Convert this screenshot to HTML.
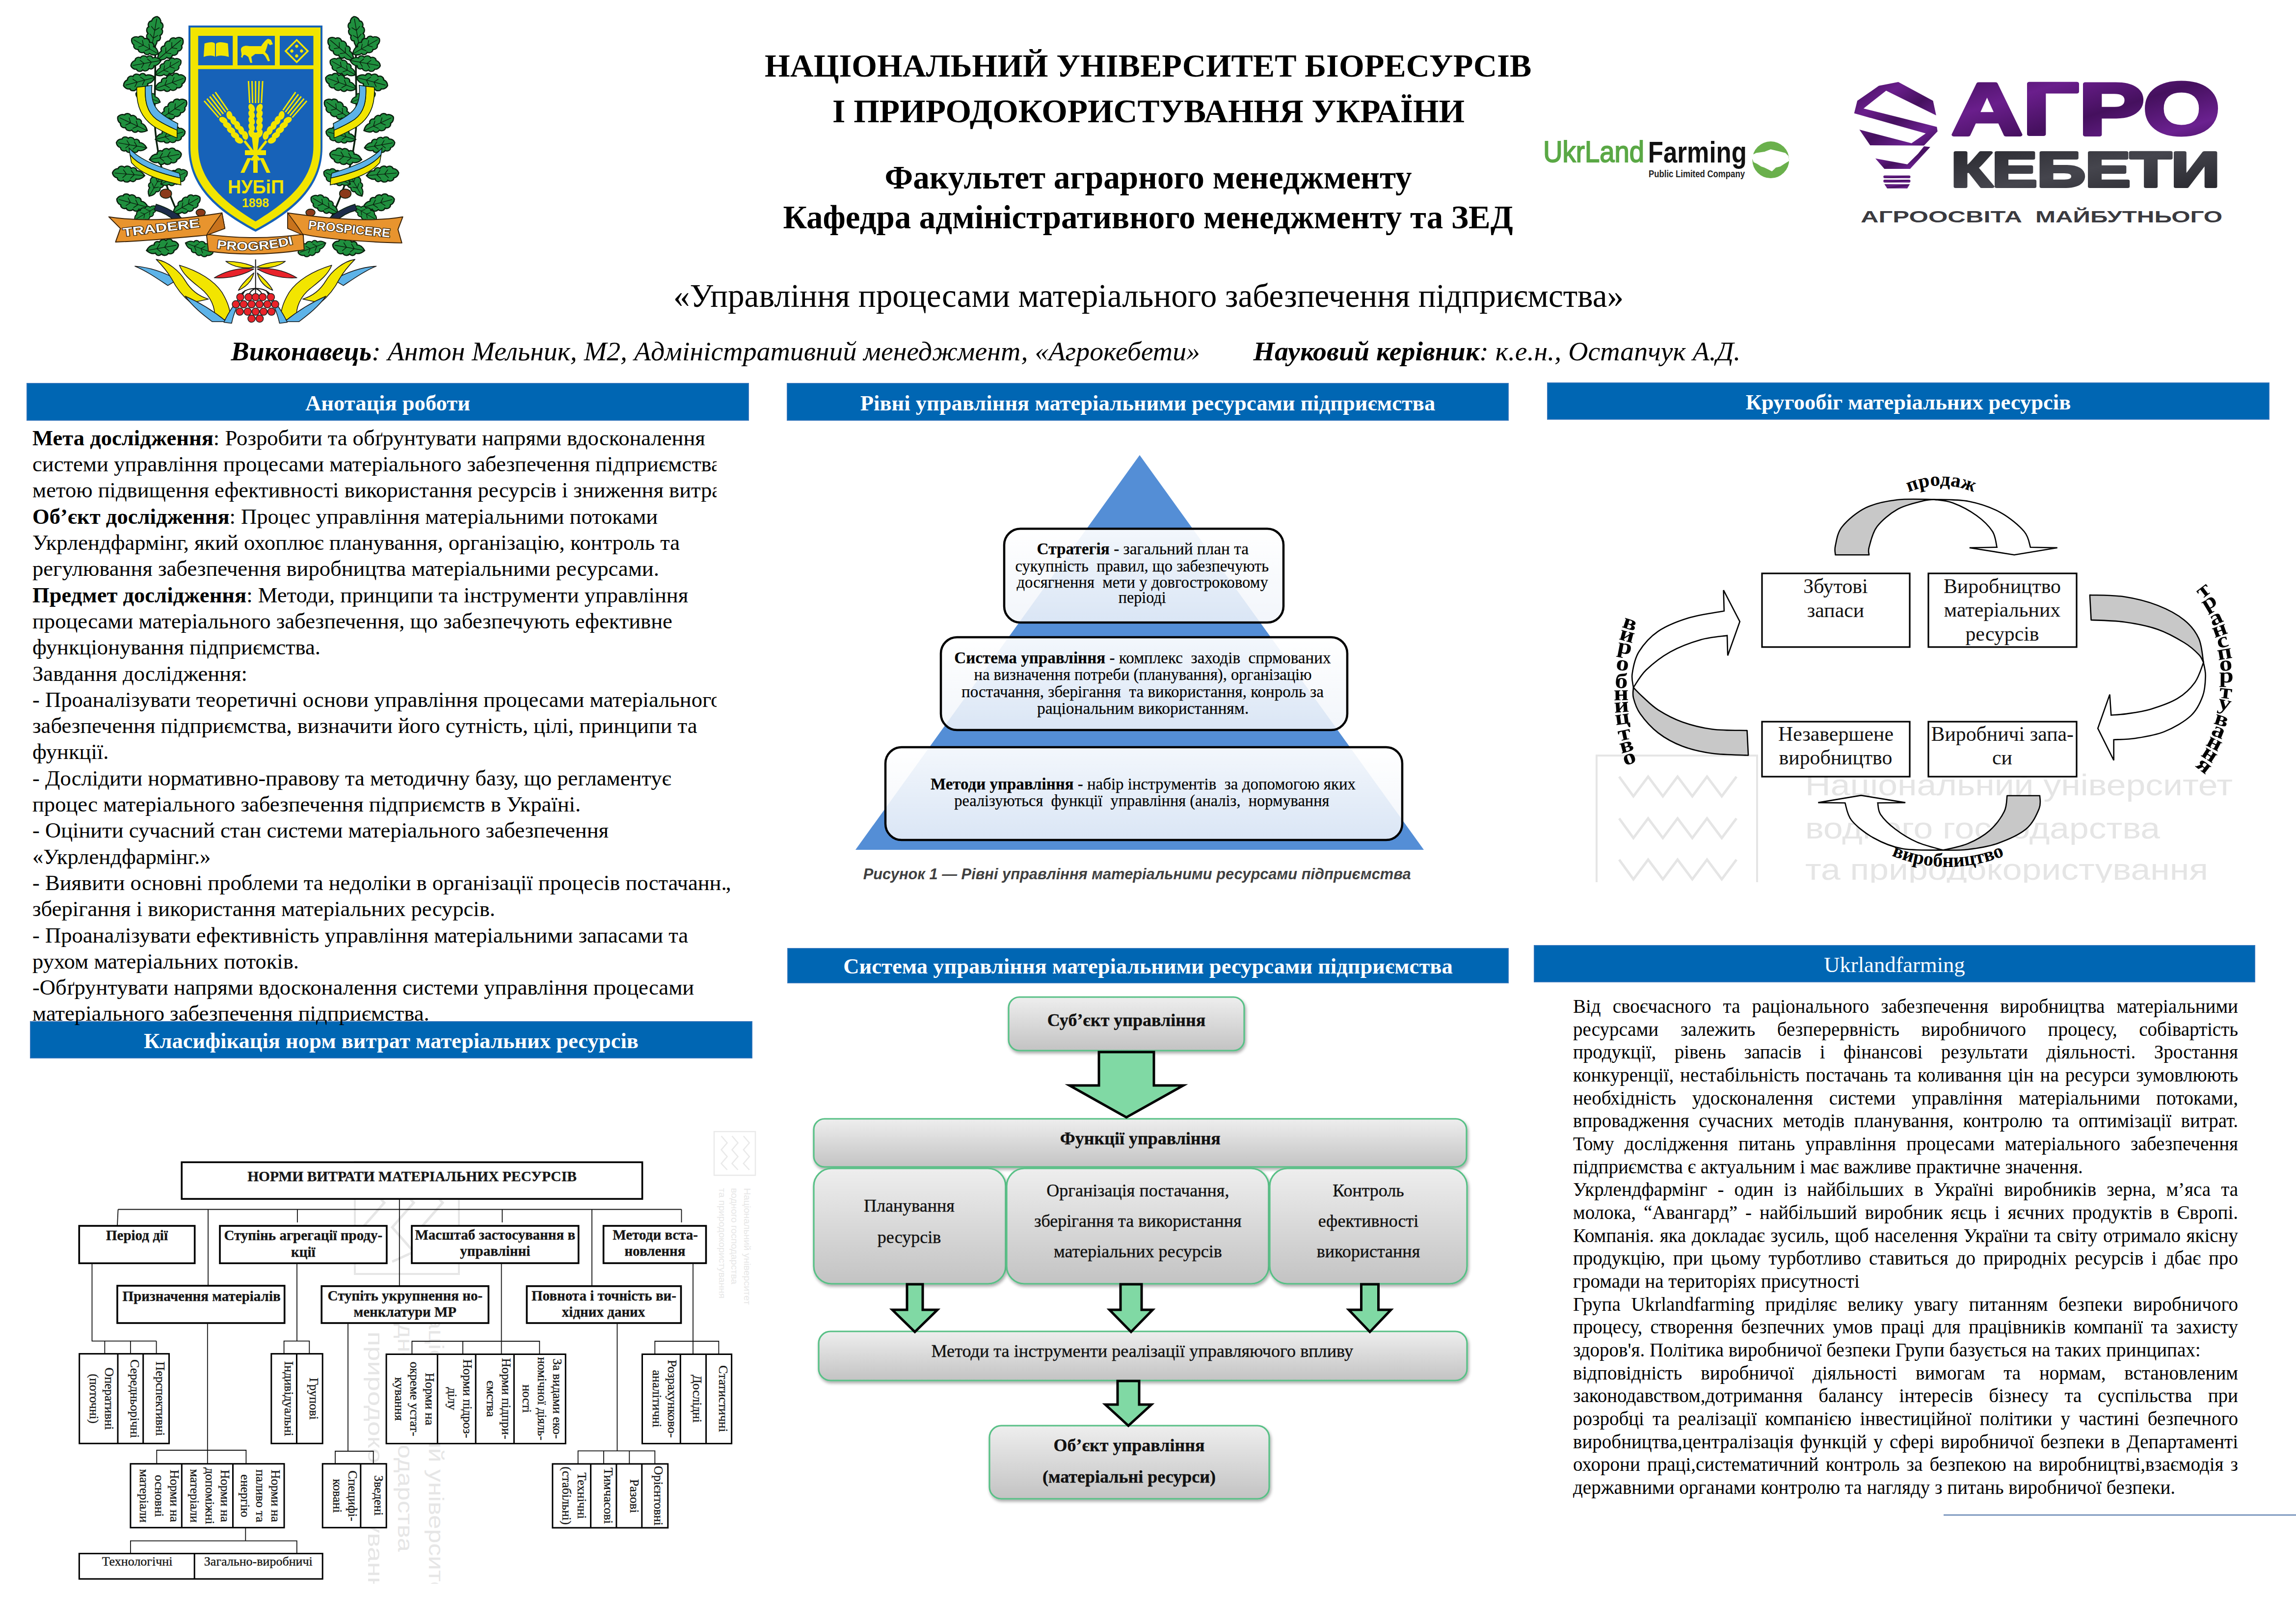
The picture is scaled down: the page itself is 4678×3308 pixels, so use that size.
<!DOCTYPE html>
<html><head><meta charset="utf-8"><style>
html,body{margin:0;padding:0;background:#fff;}
body{width:4678px;height:3308px;position:relative;overflow:hidden;font-family:'Liberation Serif', serif;color:#000;}
.a{position:absolute;white-space:nowrap;}
body>svg{position:absolute;overflow:visible;}
</style></head><body>
<div class="a" style="left:1558.0px;top:94.3px;font-size:66.5px;line-height:79.80px;font-family:'Liberation Serif', serif;font-weight:bold;">НАЦІОНАЛЬНИЙ УНІВЕРСИТЕТ БІОРЕСУРСІВ</div>
<div class="a" style="left:1696.0px;top:185.6px;font-size:67.6px;line-height:81.12px;font-family:'Liberation Serif', serif;font-weight:bold;">І ПРИРОДОКОРИСТУВАННЯ УКРАЇНИ</div>
<div class="a" style="left:1802.5px;top:321.6px;font-size:67.2px;line-height:80.64px;font-family:'Liberation Serif', serif;font-weight:bold;">Факультет аграрного менеджменту</div>
<div class="a" style="left:1595.5px;top:401.6px;font-size:66.9px;line-height:80.28px;font-family:'Liberation Serif', serif;font-weight:bold;">Кафедра адміністративного менеджменту та ЗЕД</div>
<div class="a" style="left:1372.0px;top:562.6px;font-size:67.1px;line-height:80.52px;font-family:'Liberation Serif', serif;">«Управління процесами матеріального забезпечення підприємства»</div>
<div class="a" style="left:470.5px;top:681.7px;font-size:55.8px;line-height:66.96px;font-family:'Liberation Serif', serif;font-style:italic;"><b>Виконавець</b>: Антон Мельник, М2, Адміністративний менеджмент, «Агрокебети»</div>
<div class="a" style="left:2553.5px;top:681.6px;font-size:55.85px;line-height:67.02px;font-family:'Liberation Serif', serif;font-style:italic;"><b>Науковий керівник</b>: к.е.н., Остапчук А.Д.</div>
<div class="a" style="left:54px;top:780px;width:1472px;height:77px;background:#0066b3;box-shadow:inset 0 0 0 1.5px #3c78bd;"></div>
<div class="a" style="left:54.0px;top:794.6px;font-size:44.6px;line-height:53.52px;font-family:'Liberation Serif', serif;font-weight:bold;color:#fff;width:1472.0px;text-align:center;">Анотація роботи</div>
<div class="a" style="left:1603px;top:780px;width:1471px;height:77px;background:#0066b3;box-shadow:inset 0 0 0 1.5px #3c78bd;"></div>
<div class="a" style="left:1603.0px;top:794.6px;font-size:44.6px;line-height:53.52px;font-family:'Liberation Serif', serif;font-weight:bold;color:#fff;width:1471.0px;text-align:center;">Рівні управління матеріальними ресурсами підприємства</div>
<div class="a" style="left:3152px;top:779px;width:1472px;height:76px;background:#0066b3;box-shadow:inset 0 0 0 1.5px #3c78bd;"></div>
<div class="a" style="left:3152.0px;top:792.9px;font-size:44.6px;line-height:53.52px;font-family:'Liberation Serif', serif;font-weight:bold;color:#fff;width:1472.0px;text-align:center;">Кругообіг матеріальних ресурсів</div>
<div class="a" style="left:61px;top:2080px;width:1472px;height:76px;background:#0066b3;box-shadow:inset 0 0 0 1.5px #3c78bd;"></div>
<div class="a" style="left:61.0px;top:2093.9px;font-size:44.6px;line-height:53.52px;font-family:'Liberation Serif', serif;font-weight:bold;color:#fff;width:1472.0px;text-align:center;">Класифікація норм витрат матеріальних ресурсів</div>
<div class="a" style="left:1604px;top:1931px;width:1470px;height:72px;background:#0066b3;box-shadow:inset 0 0 0 1.5px #3c78bd;"></div>
<div class="a" style="left:1604.0px;top:1942.0px;font-size:44.6px;line-height:53.52px;font-family:'Liberation Serif', serif;font-weight:bold;color:#fff;width:1470.0px;text-align:center;">Система управління матеріальними ресурсами підприємства</div>
<div class="a" style="left:3125px;top:1925px;width:1470px;height:76px;background:#0066b3;box-shadow:inset 0 0 0 1.5px #3c78bd;"></div>
<div class="a" style="left:3125.0px;top:1938.9px;font-size:44.6px;line-height:53.52px;font-family:'Liberation Serif', serif;color:#fff;width:1470.0px;text-align:center;">Ukrlandfarming</div>
<div class="a" style="left:66.0px;top:865.8px;font-size:44.6px;line-height:53.52px;font-family:'Liberation Serif', serif;white-space:nowrap;overflow:hidden;width:1394px;"><b>Мета дослідження</b>: Розробити та обґрунтувати напрями вдосконалення</div>
<div class="a" style="left:66.0px;top:919.1px;font-size:44.6px;line-height:53.52px;font-family:'Liberation Serif', serif;white-space:nowrap;overflow:hidden;width:1394px;">системи управління процесами матеріального забезпечення підприємства з</div>
<div class="a" style="left:66.0px;top:972.4px;font-size:44.6px;line-height:53.52px;font-family:'Liberation Serif', serif;white-space:nowrap;overflow:hidden;width:1394px;">метою підвищення ефективності використання ресурсів і зниження витрат.</div>
<div class="a" style="left:66.0px;top:1025.7px;font-size:44.6px;line-height:53.52px;font-family:'Liberation Serif', serif;white-space:nowrap;overflow:hidden;width:1394px;"><b>Об’єкт дослідження</b>: Процес управління матеріальними потоками</div>
<div class="a" style="left:66.0px;top:1079.0px;font-size:44.6px;line-height:53.52px;font-family:'Liberation Serif', serif;white-space:nowrap;overflow:hidden;width:1394px;">Укрлендфармінг, який охоплює планування, організацію, контроль та</div>
<div class="a" style="left:66.0px;top:1132.3px;font-size:44.6px;line-height:53.52px;font-family:'Liberation Serif', serif;white-space:nowrap;overflow:hidden;width:1394px;">регулювання забезпечення виробництва матеріальними ресурсами.</div>
<div class="a" style="left:66.0px;top:1185.6px;font-size:44.6px;line-height:53.52px;font-family:'Liberation Serif', serif;white-space:nowrap;overflow:hidden;width:1394px;"><b>Предмет дослідження</b>: Методи, принципи та інструменти управління</div>
<div class="a" style="left:66.0px;top:1238.9px;font-size:44.6px;line-height:53.52px;font-family:'Liberation Serif', serif;white-space:nowrap;overflow:hidden;width:1394px;">процесами матеріального забезпечення, що забезпечують ефективне</div>
<div class="a" style="left:66.0px;top:1292.2px;font-size:44.6px;line-height:53.52px;font-family:'Liberation Serif', serif;white-space:nowrap;overflow:hidden;width:1394px;">функціонування підприємства.</div>
<div class="a" style="left:66.0px;top:1345.5px;font-size:44.6px;line-height:53.52px;font-family:'Liberation Serif', serif;white-space:nowrap;overflow:hidden;width:1394px;">Завдання дослідження:</div>
<div class="a" style="left:66.0px;top:1398.8px;font-size:44.6px;line-height:53.52px;font-family:'Liberation Serif', serif;white-space:nowrap;overflow:hidden;width:1394px;">- Проаналізувати теоретичні основи управління процесами матеріального</div>
<div class="a" style="left:66.0px;top:1452.1px;font-size:44.6px;line-height:53.52px;font-family:'Liberation Serif', serif;white-space:nowrap;overflow:hidden;width:1394px;">забезпечення підприємства, визначити його сутність, цілі, принципи та</div>
<div class="a" style="left:66.0px;top:1505.4px;font-size:44.6px;line-height:53.52px;font-family:'Liberation Serif', serif;white-space:nowrap;overflow:hidden;width:1394px;">функції.</div>
<div class="a" style="left:66.0px;top:1558.7px;font-size:44.6px;line-height:53.52px;font-family:'Liberation Serif', serif;white-space:nowrap;overflow:hidden;width:1394px;">- Дослідити нормативно-правову та методичну базу, що регламентує</div>
<div class="a" style="left:66.0px;top:1612.0px;font-size:44.6px;line-height:53.52px;font-family:'Liberation Serif', serif;white-space:nowrap;overflow:hidden;width:1394px;">процес матеріального забезпечення підприємств в Україні.</div>
<div class="a" style="left:66.0px;top:1665.3px;font-size:44.6px;line-height:53.52px;font-family:'Liberation Serif', serif;white-space:nowrap;overflow:hidden;width:1394px;">- Оцінити сучасний стан системи матеріального забезпечення</div>
<div class="a" style="left:66.0px;top:1718.6px;font-size:44.6px;line-height:53.52px;font-family:'Liberation Serif', serif;white-space:nowrap;overflow:hidden;width:1394px;">«Укрлендфармінг.»</div>
<div class="a" style="left:66.0px;top:1771.9px;font-size:44.6px;line-height:53.52px;font-family:'Liberation Serif', serif;white-space:nowrap;">- Виявити основні проблеми та недоліки в організації процесів постачанн<span style="letter-spacing:-2px">.,</span></div>
<div class="a" style="left:66.0px;top:1825.2px;font-size:44.6px;line-height:53.52px;font-family:'Liberation Serif', serif;white-space:nowrap;overflow:hidden;width:1394px;">зберігання і використання матеріальних ресурсів.</div>
<div class="a" style="left:66.0px;top:1878.5px;font-size:44.6px;line-height:53.52px;font-family:'Liberation Serif', serif;white-space:nowrap;overflow:hidden;width:1394px;">- Проаналізувати ефективність управління матеріальними запасами та</div>
<div class="a" style="left:66.0px;top:1931.8px;font-size:44.6px;line-height:53.52px;font-family:'Liberation Serif', serif;white-space:nowrap;overflow:hidden;width:1394px;">рухом матеріальних потоків.</div>
<div class="a" style="left:66.0px;top:1985.1px;font-size:44.6px;line-height:53.52px;font-family:'Liberation Serif', serif;white-space:nowrap;overflow:hidden;width:1394px;">-Обґрунтувати напрями вдосконалення системи управління процесами</div>
<div class="a" style="left:66.0px;top:2038.4px;font-size:44.6px;line-height:53.52px;font-family:'Liberation Serif', serif;white-space:nowrap;overflow:hidden;width:1394px;">матеріального забезпечення підприємства.</div>
<div class="a" style="left:3205.0px;top:2027.1px;font-size:39px;line-height:46.80px;font-family:'Liberation Serif', serif;width:1355.0px;text-align:justify;text-align-last:justify;">Від своєчасного та раціонального забезпечення виробництва матеріальними</div>
<div class="a" style="left:3205.0px;top:2073.8px;font-size:39px;line-height:46.80px;font-family:'Liberation Serif', serif;width:1355.0px;text-align:justify;text-align-last:justify;">ресурсами залежить безперервність виробничого процесу, собівартість</div>
<div class="a" style="left:3205.0px;top:2120.4px;font-size:39px;line-height:46.80px;font-family:'Liberation Serif', serif;width:1355.0px;text-align:justify;text-align-last:justify;">продукції, рівень запасів і фінансові результати діяльності. Зростання</div>
<div class="a" style="left:3205.0px;top:2167.1px;font-size:39px;line-height:46.80px;font-family:'Liberation Serif', serif;width:1355.0px;text-align:justify;text-align-last:justify;">конкуренції, нестабільність постачань та коливання цін на ресурси зумовлюють</div>
<div class="a" style="left:3205.0px;top:2213.7px;font-size:39px;line-height:46.80px;font-family:'Liberation Serif', serif;width:1355.0px;text-align:justify;text-align-last:justify;">необхідність удосконалення системи управління матеріальними потоками,</div>
<div class="a" style="left:3205.0px;top:2260.4px;font-size:39px;line-height:46.80px;font-family:'Liberation Serif', serif;width:1355.0px;text-align:justify;text-align-last:justify;">впровадження сучасних методів планування, контролю та оптимізації витрат.</div>
<div class="a" style="left:3205.0px;top:2307.0px;font-size:39px;line-height:46.80px;font-family:'Liberation Serif', serif;width:1355.0px;text-align:justify;text-align-last:justify;">Тому дослідження питань управління процесами матеріального забезпечення</div>
<div class="a" style="left:3205.0px;top:2353.7px;font-size:39px;line-height:46.80px;font-family:'Liberation Serif', serif;white-space:nowrap;">підприємства є актуальним і має важливе практичне значення.</div>
<div class="a" style="left:3205.0px;top:2400.3px;font-size:39px;line-height:46.80px;font-family:'Liberation Serif', serif;width:1355.0px;text-align:justify;text-align-last:justify;">Укрлендфармінг - один із найбільших в Україні виробників зерна, м’яса та</div>
<div class="a" style="left:3205.0px;top:2447.0px;font-size:39px;line-height:46.80px;font-family:'Liberation Serif', serif;width:1355.0px;text-align:justify;text-align-last:justify;">молока, “Авангард” - найбільший виробник яєць і яєчних продуктів в Європі.</div>
<div class="a" style="left:3205.0px;top:2493.6px;font-size:39px;line-height:46.80px;font-family:'Liberation Serif', serif;width:1355.0px;text-align:justify;text-align-last:justify;">Компанія. яка докладає зусиль, щоб населення України та світу отримало якісну</div>
<div class="a" style="left:3205.0px;top:2540.3px;font-size:39px;line-height:46.80px;font-family:'Liberation Serif', serif;width:1355.0px;text-align:justify;text-align-last:justify;">продукцію, при цьому турботливо ставиться до природніх ресурсів і дбає про</div>
<div class="a" style="left:3205.0px;top:2586.9px;font-size:39px;line-height:46.80px;font-family:'Liberation Serif', serif;white-space:nowrap;">громади на територіях присутності</div>
<div class="a" style="left:3205.0px;top:2633.6px;font-size:39px;line-height:46.80px;font-family:'Liberation Serif', serif;width:1355.0px;text-align:justify;text-align-last:justify;">Група Ukrlandfarming приділяє велику увагу питанням безпеки виробничого</div>
<div class="a" style="left:3205.0px;top:2680.2px;font-size:39px;line-height:46.80px;font-family:'Liberation Serif', serif;width:1355.0px;text-align:justify;text-align-last:justify;">процесу, створення безпечних умов праці для працівників компанії та захисту</div>
<div class="a" style="left:3205.0px;top:2726.9px;font-size:39px;line-height:46.80px;font-family:'Liberation Serif', serif;white-space:nowrap;">здоров'я. Політика виробничої безпеки Групи базується на таких принципах:</div>
<div class="a" style="left:3205.0px;top:2773.5px;font-size:39px;line-height:46.80px;font-family:'Liberation Serif', serif;width:1355.0px;text-align:justify;text-align-last:justify;">відповідність виробничої діяльності вимогам та нормам, встановленим</div>
<div class="a" style="left:3205.0px;top:2820.2px;font-size:39px;line-height:46.80px;font-family:'Liberation Serif', serif;width:1355.0px;text-align:justify;text-align-last:justify;">законодавством,дотримання балансу інтересів бізнесу та суспільства при</div>
<div class="a" style="left:3205.0px;top:2866.8px;font-size:39px;line-height:46.80px;font-family:'Liberation Serif', serif;width:1355.0px;text-align:justify;text-align-last:justify;">розробці та реалізації компанією інвестиційної політики у частині безпечного</div>
<div class="a" style="left:3205.0px;top:2913.5px;font-size:39px;line-height:46.80px;font-family:'Liberation Serif', serif;width:1355.0px;text-align:justify;text-align-last:justify;">виробництва,централізація функцій у сфері виробничої безпеки в Департаменті</div>
<div class="a" style="left:3205.0px;top:2960.1px;font-size:39px;line-height:46.80px;font-family:'Liberation Serif', serif;width:1355.0px;text-align:justify;text-align-last:justify;">охорони праці,систематичний контроль за безпекою на виробництві,взаємодія з</div>
<div class="a" style="left:3205.0px;top:3006.8px;font-size:39px;line-height:46.80px;font-family:'Liberation Serif', serif;white-space:nowrap;">державними органами контролю та нагляду з питань виробничої безпеки.</div>
<div class="a" style="left:3960px;top:3084.5px;width:718px;height:2.5px;background:#4a6fa6;"></div>
<svg style="left:0;top:0" width="4678" height="3308" viewBox="0 0 4678 3308">
<g transform="translate(200,20) scale(0.39409)"><g transform=""><path d="M430,1090 C360,950 310,800 295,620 C285,450 305,300 290,80" fill="none" stroke="#0a1f0e" stroke-width="9"/><g transform="translate(290,120) rotate(-80) scale(1.35,1.2)"><path d="M-60,0 C-50,-14 -38,-20 -28,-18 C-26,-30 -14,-34 -6,-26 C0,-36 14,-38 20,-28 C28,-36 42,-32 44,-20 C54,-20 62,-10 64,0 C62,10 54,20 44,20 C42,32 28,36 20,28 C14,38 0,36 -6,26 C-14,34 -26,30 -28,18 C-38,20 -50,14 -60,0 Z" fill="#1f8f3e" stroke="#0a1f0e" stroke-width="5"/><path d="M-58,0 L56,0 M-20,0 L-6,-18 M10,0 L24,-18 M-20,0 L-6,18 M10,0 L24,18" stroke="#0a1f0e" stroke-width="3" fill="none"/></g><g transform="translate(245,190) rotate(-150) scale(1.2825,1.14)"><path d="M-60,0 C-50,-14 -38,-20 -28,-18 C-26,-30 -14,-34 -6,-26 C0,-36 14,-38 20,-28 C28,-36 42,-32 44,-20 C54,-20 62,-10 64,0 C62,10 54,20 44,20 C42,32 28,36 20,28 C14,38 0,36 -6,26 C-14,34 -26,30 -28,18 C-38,20 -50,14 -60,0 Z" fill="#1f8f3e" stroke="#0a1f0e" stroke-width="5"/><path d="M-58,0 L56,0 M-20,0 L-6,-18 M10,0 L24,-18 M-20,0 L-6,18 M10,0 L24,18" stroke="#0a1f0e" stroke-width="3" fill="none"/></g><g transform="translate(370,205) rotate(-40) scale(1.35,1.2)"><path d="M-60,0 C-50,-14 -38,-20 -28,-18 C-26,-30 -14,-34 -6,-26 C0,-36 14,-38 20,-28 C28,-36 42,-32 44,-20 C54,-20 62,-10 64,0 C62,10 54,20 44,20 C42,32 28,36 20,28 C14,38 0,36 -6,26 C-14,34 -26,30 -28,18 C-38,20 -50,14 -60,0 Z" fill="#1f8f3e" stroke="#0a1f0e" stroke-width="5"/><path d="M-58,0 L56,0 M-20,0 L-6,-18 M10,0 L24,-18 M-20,0 L-6,18 M10,0 L24,18" stroke="#0a1f0e" stroke-width="3" fill="none"/></g><g transform="translate(250,275) rotate(170) scale(1.2825,1.14)"><path d="M-60,0 C-50,-14 -38,-20 -28,-18 C-26,-30 -14,-34 -6,-26 C0,-36 14,-38 20,-28 C28,-36 42,-32 44,-20 C54,-20 62,-10 64,0 C62,10 54,20 44,20 C42,32 28,36 20,28 C14,38 0,36 -6,26 C-14,34 -26,30 -28,18 C-38,20 -50,14 -60,0 Z" fill="#1f8f3e" stroke="#0a1f0e" stroke-width="5"/><path d="M-58,0 L56,0 M-20,0 L-6,-18 M10,0 L24,-18 M-20,0 L-6,18 M10,0 L24,18" stroke="#0a1f0e" stroke-width="3" fill="none"/></g><g transform="translate(360,300) rotate(-30) scale(1.215,1.08)"><path d="M-60,0 C-50,-14 -38,-20 -28,-18 C-26,-30 -14,-34 -6,-26 C0,-36 14,-38 20,-28 C28,-36 42,-32 44,-20 C54,-20 62,-10 64,0 C62,10 54,20 44,20 C42,32 28,36 20,28 C14,38 0,36 -6,26 C-14,34 -26,30 -28,18 C-38,20 -50,14 -60,0 Z" fill="#1f8f3e" stroke="#0a1f0e" stroke-width="5"/><path d="M-58,0 L56,0 M-20,0 L-6,-18 M10,0 L24,-18 M-20,0 L-6,18 M10,0 L24,18" stroke="#0a1f0e" stroke-width="3" fill="none"/></g><g transform="translate(215,370) rotate(165) scale(1.35,1.2)"><path d="M-60,0 C-50,-14 -38,-20 -28,-18 C-26,-30 -14,-34 -6,-26 C0,-36 14,-38 20,-28 C28,-36 42,-32 44,-20 C54,-20 62,-10 64,0 C62,10 54,20 44,20 C42,32 28,36 20,28 C14,38 0,36 -6,26 C-14,34 -26,30 -28,18 C-38,20 -50,14 -60,0 Z" fill="#1f8f3e" stroke="#0a1f0e" stroke-width="5"/><path d="M-58,0 L56,0 M-20,0 L-6,-18 M10,0 L24,-18 M-20,0 L-6,18 M10,0 L24,18" stroke="#0a1f0e" stroke-width="3" fill="none"/></g><g transform="translate(370,380) rotate(-20) scale(1.35,1.2)"><path d="M-60,0 C-50,-14 -38,-20 -28,-18 C-26,-30 -14,-34 -6,-26 C0,-36 14,-38 20,-28 C28,-36 42,-32 44,-20 C54,-20 62,-10 64,0 C62,10 54,20 44,20 C42,32 28,36 20,28 C14,38 0,36 -6,26 C-14,34 -26,30 -28,18 C-38,20 -50,14 -60,0 Z" fill="#1f8f3e" stroke="#0a1f0e" stroke-width="5"/><path d="M-58,0 L56,0 M-20,0 L-6,-18 M10,0 L24,-18 M-20,0 L-6,18 M10,0 L24,18" stroke="#0a1f0e" stroke-width="3" fill="none"/></g><g transform="translate(260,455) rotate(200) scale(1.08,0.96)"><path d="M-60,0 C-50,-14 -38,-20 -28,-18 C-26,-30 -14,-34 -6,-26 C0,-36 14,-38 20,-28 C28,-36 42,-32 44,-20 C54,-20 62,-10 64,0 C62,10 54,20 44,20 C42,32 28,36 20,28 C14,38 0,36 -6,26 C-14,34 -26,30 -28,18 C-38,20 -50,14 -60,0 Z" fill="#1f8f3e" stroke="#0a1f0e" stroke-width="5"/><path d="M-58,0 L56,0 M-20,0 L-6,-18 M10,0 L24,-18 M-20,0 L-6,18 M10,0 L24,18" stroke="#0a1f0e" stroke-width="3" fill="none"/></g><g transform="translate(385,520) rotate(-35) scale(1.35,1.2)"><path d="M-60,0 C-50,-14 -38,-20 -28,-18 C-26,-30 -14,-34 -6,-26 C0,-36 14,-38 20,-28 C28,-36 42,-32 44,-20 C54,-20 62,-10 64,0 C62,10 54,20 44,20 C42,32 28,36 20,28 C14,38 0,36 -6,26 C-14,34 -26,30 -28,18 C-38,20 -50,14 -60,0 Z" fill="#1f8f3e" stroke="#0a1f0e" stroke-width="5"/><path d="M-58,0 L56,0 M-20,0 L-6,-18 M10,0 L24,-18 M-20,0 L-6,18 M10,0 L24,18" stroke="#0a1f0e" stroke-width="3" fill="none"/></g><g transform="translate(180,590) rotate(205) scale(1.35,1.2)"><path d="M-60,0 C-50,-14 -38,-20 -28,-18 C-26,-30 -14,-34 -6,-26 C0,-36 14,-38 20,-28 C28,-36 42,-32 44,-20 C54,-20 62,-10 64,0 C62,10 54,20 44,20 C42,32 28,36 20,28 C14,38 0,36 -6,26 C-14,34 -26,30 -28,18 C-38,20 -50,14 -60,0 Z" fill="#1f8f3e" stroke="#0a1f0e" stroke-width="5"/><path d="M-58,0 L56,0 M-20,0 L-6,-18 M10,0 L24,-18 M-20,0 L-6,18 M10,0 L24,18" stroke="#0a1f0e" stroke-width="3" fill="none"/></g><g transform="translate(370,650) rotate(-15) scale(1.2825,1.14)"><path d="M-60,0 C-50,-14 -38,-20 -28,-18 C-26,-30 -14,-34 -6,-26 C0,-36 14,-38 20,-28 C28,-36 42,-32 44,-20 C54,-20 62,-10 64,0 C62,10 54,20 44,20 C42,32 28,36 20,28 C14,38 0,36 -6,26 C-14,34 -26,30 -28,18 C-38,20 -50,14 -60,0 Z" fill="#1f8f3e" stroke="#0a1f0e" stroke-width="5"/><path d="M-58,0 L56,0 M-20,0 L-6,-18 M10,0 L24,-18 M-20,0 L-6,18 M10,0 L24,18" stroke="#0a1f0e" stroke-width="3" fill="none"/></g><g transform="translate(175,700) rotate(190) scale(1.2825,1.14)"><path d="M-60,0 C-50,-14 -38,-20 -28,-18 C-26,-30 -14,-34 -6,-26 C0,-36 14,-38 20,-28 C28,-36 42,-32 44,-20 C54,-20 62,-10 64,0 C62,10 54,20 44,20 C42,32 28,36 20,28 C14,38 0,36 -6,26 C-14,34 -26,30 -28,18 C-38,20 -50,14 -60,0 Z" fill="#1f8f3e" stroke="#0a1f0e" stroke-width="5"/><path d="M-58,0 L56,0 M-20,0 L-6,-18 M10,0 L24,-18 M-20,0 L-6,18 M10,0 L24,18" stroke="#0a1f0e" stroke-width="3" fill="none"/></g><g transform="translate(345,760) rotate(-10) scale(1.35,1.2)"><path d="M-60,0 C-50,-14 -38,-20 -28,-18 C-26,-30 -14,-34 -6,-26 C0,-36 14,-38 20,-28 C28,-36 42,-32 44,-20 C54,-20 62,-10 64,0 C62,10 54,20 44,20 C42,32 28,36 20,28 C14,38 0,36 -6,26 C-14,34 -26,30 -28,18 C-38,20 -50,14 -60,0 Z" fill="#1f8f3e" stroke="#0a1f0e" stroke-width="5"/><path d="M-58,0 L56,0 M-20,0 L-6,-18 M10,0 L24,-18 M-20,0 L-6,18 M10,0 L24,18" stroke="#0a1f0e" stroke-width="3" fill="none"/></g><g transform="translate(160,850) rotate(185) scale(1.35,1.2)"><path d="M-60,0 C-50,-14 -38,-20 -28,-18 C-26,-30 -14,-34 -6,-26 C0,-36 14,-38 20,-28 C28,-36 42,-32 44,-20 C54,-20 62,-10 64,0 C62,10 54,20 44,20 C42,32 28,36 20,28 C14,38 0,36 -6,26 C-14,34 -26,30 -28,18 C-38,20 -50,14 -60,0 Z" fill="#1f8f3e" stroke="#0a1f0e" stroke-width="5"/><path d="M-58,0 L56,0 M-20,0 L-6,-18 M10,0 L24,-18 M-20,0 L-6,18 M10,0 L24,18" stroke="#0a1f0e" stroke-width="3" fill="none"/></g><g transform="translate(300,900) rotate(-60) scale(1.215,1.08)"><path d="M-60,0 C-50,-14 -38,-20 -28,-18 C-26,-30 -14,-34 -6,-26 C0,-36 14,-38 20,-28 C28,-36 42,-32 44,-20 C54,-20 62,-10 64,0 C62,10 54,20 44,20 C42,32 28,36 20,28 C14,38 0,36 -6,26 C-14,34 -26,30 -28,18 C-38,20 -50,14 -60,0 Z" fill="#1f8f3e" stroke="#0a1f0e" stroke-width="5"/><path d="M-58,0 L56,0 M-20,0 L-6,-18 M10,0 L24,-18 M-20,0 L-6,18 M10,0 L24,18" stroke="#0a1f0e" stroke-width="3" fill="none"/></g><g transform="translate(390,870) rotate(-25) scale(1.215,1.08)"><path d="M-60,0 C-50,-14 -38,-20 -28,-18 C-26,-30 -14,-34 -6,-26 C0,-36 14,-38 20,-28 C28,-36 42,-32 44,-20 C54,-20 62,-10 64,0 C62,10 54,20 44,20 C42,32 28,36 20,28 C14,38 0,36 -6,26 C-14,34 -26,30 -28,18 C-38,20 -50,14 -60,0 Z" fill="#1f8f3e" stroke="#0a1f0e" stroke-width="5"/><path d="M-58,0 L56,0 M-20,0 L-6,-18 M10,0 L24,-18 M-20,0 L-6,18 M10,0 L24,18" stroke="#0a1f0e" stroke-width="3" fill="none"/></g><g transform="translate(180,1000) rotate(195) scale(1.35,1.2)"><path d="M-60,0 C-50,-14 -38,-20 -28,-18 C-26,-30 -14,-34 -6,-26 C0,-36 14,-38 20,-28 C28,-36 42,-32 44,-20 C54,-20 62,-10 64,0 C62,10 54,20 44,20 C42,32 28,36 20,28 C14,38 0,36 -6,26 C-14,34 -26,30 -28,18 C-38,20 -50,14 -60,0 Z" fill="#1f8f3e" stroke="#0a1f0e" stroke-width="5"/><path d="M-58,0 L56,0 M-20,0 L-6,-18 M10,0 L24,-18 M-20,0 L-6,18 M10,0 L24,18" stroke="#0a1f0e" stroke-width="3" fill="none"/></g><g transform="translate(455,1010) rotate(-30) scale(1.2825,1.14)"><path d="M-60,0 C-50,-14 -38,-20 -28,-18 C-26,-30 -14,-34 -6,-26 C0,-36 14,-38 20,-28 C28,-36 42,-32 44,-20 C54,-20 62,-10 64,0 C62,10 54,20 44,20 C42,32 28,36 20,28 C14,38 0,36 -6,26 C-14,34 -26,30 -28,18 C-38,20 -50,14 -60,0 Z" fill="#1f8f3e" stroke="#0a1f0e" stroke-width="5"/><path d="M-58,0 L56,0 M-20,0 L-6,-18 M10,0 L24,-18 M-20,0 L-6,18 M10,0 L24,18" stroke="#0a1f0e" stroke-width="3" fill="none"/></g><g transform="translate(250,1050) rotate(150) scale(1.08,0.96)"><path d="M-60,0 C-50,-14 -38,-20 -28,-18 C-26,-30 -14,-34 -6,-26 C0,-36 14,-38 20,-28 C28,-36 42,-32 44,-20 C54,-20 62,-10 64,0 C62,10 54,20 44,20 C42,32 28,36 20,28 C14,38 0,36 -6,26 C-14,34 -26,30 -28,18 C-38,20 -50,14 -60,0 Z" fill="#1f8f3e" stroke="#0a1f0e" stroke-width="5"/><path d="M-58,0 L56,0 M-20,0 L-6,-18 M10,0 L24,-18 M-20,0 L-6,18 M10,0 L24,18" stroke="#0a1f0e" stroke-width="3" fill="none"/></g><g transform="translate(330,1230) rotate(-10) scale(1.35,1.2)"><path d="M-60,0 C-50,-14 -38,-20 -28,-18 C-26,-30 -14,-34 -6,-26 C0,-36 14,-38 20,-28 C28,-36 42,-32 44,-20 C54,-20 62,-10 64,0 C62,10 54,20 44,20 C42,32 28,36 20,28 C14,38 0,36 -6,26 C-14,34 -26,30 -28,18 C-38,20 -50,14 -60,0 Z" fill="#1f8f3e" stroke="#0a1f0e" stroke-width="5"/><path d="M-58,0 L56,0 M-20,0 L-6,-18 M10,0 L24,-18 M-20,0 L-6,18 M10,0 L24,18" stroke="#0a1f0e" stroke-width="3" fill="none"/></g><g transform="translate(520,1230) rotate(20) scale(1.215,1.08)"><path d="M-60,0 C-50,-14 -38,-20 -28,-18 C-26,-30 -14,-34 -6,-26 C0,-36 14,-38 20,-28 C28,-36 42,-32 44,-20 C54,-20 62,-10 64,0 C62,10 54,20 44,20 C42,32 28,36 20,28 C14,38 0,36 -6,26 C-14,34 -26,30 -28,18 C-38,20 -50,14 -60,0 Z" fill="#1f8f3e" stroke="#0a1f0e" stroke-width="5"/><path d="M-58,0 L56,0 M-20,0 L-6,-18 M10,0 L24,-18 M-20,0 L-6,18 M10,0 L24,18" stroke="#0a1f0e" stroke-width="3" fill="none"/></g><path d="M200,400 C195,480 215,560 300,610 C340,632 380,652 408,662 L408,622 C372,606 332,586 302,566 C252,530 240,470 244,395 Z" fill="#f2e500" stroke="#0a1f0e" stroke-width="4"/><path d="M244,395 C240,470 252,530 302,566 C332,586 372,606 408,622 L412,588 C380,572 346,552 322,532 C282,500 272,452 278,390 Z" fill="#5db3e8" stroke="#0a1f0e" stroke-width="4"/><path d="M160,715 C200,760 270,800 420,845 L425,870 C280,835 205,800 165,750 Z" fill="#5db3e8" stroke="#0a1f0e" stroke-width="4"/><path d="M165,750 C205,800 280,835 425,870 L428,905 C290,875 215,840 172,790 Z" fill="#f2e500" stroke="#0a1f0e" stroke-width="4"/><path d="M300,1005 C350,1020 410,1050 440,1085 L400,1095 C370,1065 330,1045 290,1035 Z" fill="#1d2c4a" stroke="#0a1f0e" stroke-width="4"/><ellipse cx="350" cy="950" rx="30" ry="24" fill="#8b3a1a" stroke="#0a1f0e" stroke-width="4"/><ellipse cx="530" cy="1048" rx="24" ry="18" fill="#8b3a1a" stroke="#0a1f0e" stroke-width="4"/></g><g transform="translate(1627.6,0) scale(-1,1)"><path d="M430,1090 C360,950 310,800 295,620 C285,450 305,300 290,80" fill="none" stroke="#0a1f0e" stroke-width="9"/><g transform="translate(290,120) rotate(-80) scale(1.35,1.2)"><path d="M-60,0 C-50,-14 -38,-20 -28,-18 C-26,-30 -14,-34 -6,-26 C0,-36 14,-38 20,-28 C28,-36 42,-32 44,-20 C54,-20 62,-10 64,0 C62,10 54,20 44,20 C42,32 28,36 20,28 C14,38 0,36 -6,26 C-14,34 -26,30 -28,18 C-38,20 -50,14 -60,0 Z" fill="#1f8f3e" stroke="#0a1f0e" stroke-width="5"/><path d="M-58,0 L56,0 M-20,0 L-6,-18 M10,0 L24,-18 M-20,0 L-6,18 M10,0 L24,18" stroke="#0a1f0e" stroke-width="3" fill="none"/></g><g transform="translate(245,190) rotate(-150) scale(1.2825,1.14)"><path d="M-60,0 C-50,-14 -38,-20 -28,-18 C-26,-30 -14,-34 -6,-26 C0,-36 14,-38 20,-28 C28,-36 42,-32 44,-20 C54,-20 62,-10 64,0 C62,10 54,20 44,20 C42,32 28,36 20,28 C14,38 0,36 -6,26 C-14,34 -26,30 -28,18 C-38,20 -50,14 -60,0 Z" fill="#1f8f3e" stroke="#0a1f0e" stroke-width="5"/><path d="M-58,0 L56,0 M-20,0 L-6,-18 M10,0 L24,-18 M-20,0 L-6,18 M10,0 L24,18" stroke="#0a1f0e" stroke-width="3" fill="none"/></g><g transform="translate(370,205) rotate(-40) scale(1.35,1.2)"><path d="M-60,0 C-50,-14 -38,-20 -28,-18 C-26,-30 -14,-34 -6,-26 C0,-36 14,-38 20,-28 C28,-36 42,-32 44,-20 C54,-20 62,-10 64,0 C62,10 54,20 44,20 C42,32 28,36 20,28 C14,38 0,36 -6,26 C-14,34 -26,30 -28,18 C-38,20 -50,14 -60,0 Z" fill="#1f8f3e" stroke="#0a1f0e" stroke-width="5"/><path d="M-58,0 L56,0 M-20,0 L-6,-18 M10,0 L24,-18 M-20,0 L-6,18 M10,0 L24,18" stroke="#0a1f0e" stroke-width="3" fill="none"/></g><g transform="translate(250,275) rotate(170) scale(1.2825,1.14)"><path d="M-60,0 C-50,-14 -38,-20 -28,-18 C-26,-30 -14,-34 -6,-26 C0,-36 14,-38 20,-28 C28,-36 42,-32 44,-20 C54,-20 62,-10 64,0 C62,10 54,20 44,20 C42,32 28,36 20,28 C14,38 0,36 -6,26 C-14,34 -26,30 -28,18 C-38,20 -50,14 -60,0 Z" fill="#1f8f3e" stroke="#0a1f0e" stroke-width="5"/><path d="M-58,0 L56,0 M-20,0 L-6,-18 M10,0 L24,-18 M-20,0 L-6,18 M10,0 L24,18" stroke="#0a1f0e" stroke-width="3" fill="none"/></g><g transform="translate(360,300) rotate(-30) scale(1.215,1.08)"><path d="M-60,0 C-50,-14 -38,-20 -28,-18 C-26,-30 -14,-34 -6,-26 C0,-36 14,-38 20,-28 C28,-36 42,-32 44,-20 C54,-20 62,-10 64,0 C62,10 54,20 44,20 C42,32 28,36 20,28 C14,38 0,36 -6,26 C-14,34 -26,30 -28,18 C-38,20 -50,14 -60,0 Z" fill="#1f8f3e" stroke="#0a1f0e" stroke-width="5"/><path d="M-58,0 L56,0 M-20,0 L-6,-18 M10,0 L24,-18 M-20,0 L-6,18 M10,0 L24,18" stroke="#0a1f0e" stroke-width="3" fill="none"/></g><g transform="translate(215,370) rotate(165) scale(1.35,1.2)"><path d="M-60,0 C-50,-14 -38,-20 -28,-18 C-26,-30 -14,-34 -6,-26 C0,-36 14,-38 20,-28 C28,-36 42,-32 44,-20 C54,-20 62,-10 64,0 C62,10 54,20 44,20 C42,32 28,36 20,28 C14,38 0,36 -6,26 C-14,34 -26,30 -28,18 C-38,20 -50,14 -60,0 Z" fill="#1f8f3e" stroke="#0a1f0e" stroke-width="5"/><path d="M-58,0 L56,0 M-20,0 L-6,-18 M10,0 L24,-18 M-20,0 L-6,18 M10,0 L24,18" stroke="#0a1f0e" stroke-width="3" fill="none"/></g><g transform="translate(370,380) rotate(-20) scale(1.35,1.2)"><path d="M-60,0 C-50,-14 -38,-20 -28,-18 C-26,-30 -14,-34 -6,-26 C0,-36 14,-38 20,-28 C28,-36 42,-32 44,-20 C54,-20 62,-10 64,0 C62,10 54,20 44,20 C42,32 28,36 20,28 C14,38 0,36 -6,26 C-14,34 -26,30 -28,18 C-38,20 -50,14 -60,0 Z" fill="#1f8f3e" stroke="#0a1f0e" stroke-width="5"/><path d="M-58,0 L56,0 M-20,0 L-6,-18 M10,0 L24,-18 M-20,0 L-6,18 M10,0 L24,18" stroke="#0a1f0e" stroke-width="3" fill="none"/></g><g transform="translate(260,455) rotate(200) scale(1.08,0.96)"><path d="M-60,0 C-50,-14 -38,-20 -28,-18 C-26,-30 -14,-34 -6,-26 C0,-36 14,-38 20,-28 C28,-36 42,-32 44,-20 C54,-20 62,-10 64,0 C62,10 54,20 44,20 C42,32 28,36 20,28 C14,38 0,36 -6,26 C-14,34 -26,30 -28,18 C-38,20 -50,14 -60,0 Z" fill="#1f8f3e" stroke="#0a1f0e" stroke-width="5"/><path d="M-58,0 L56,0 M-20,0 L-6,-18 M10,0 L24,-18 M-20,0 L-6,18 M10,0 L24,18" stroke="#0a1f0e" stroke-width="3" fill="none"/></g><g transform="translate(385,520) rotate(-35) scale(1.35,1.2)"><path d="M-60,0 C-50,-14 -38,-20 -28,-18 C-26,-30 -14,-34 -6,-26 C0,-36 14,-38 20,-28 C28,-36 42,-32 44,-20 C54,-20 62,-10 64,0 C62,10 54,20 44,20 C42,32 28,36 20,28 C14,38 0,36 -6,26 C-14,34 -26,30 -28,18 C-38,20 -50,14 -60,0 Z" fill="#1f8f3e" stroke="#0a1f0e" stroke-width="5"/><path d="M-58,0 L56,0 M-20,0 L-6,-18 M10,0 L24,-18 M-20,0 L-6,18 M10,0 L24,18" stroke="#0a1f0e" stroke-width="3" fill="none"/></g><g transform="translate(180,590) rotate(205) scale(1.35,1.2)"><path d="M-60,0 C-50,-14 -38,-20 -28,-18 C-26,-30 -14,-34 -6,-26 C0,-36 14,-38 20,-28 C28,-36 42,-32 44,-20 C54,-20 62,-10 64,0 C62,10 54,20 44,20 C42,32 28,36 20,28 C14,38 0,36 -6,26 C-14,34 -26,30 -28,18 C-38,20 -50,14 -60,0 Z" fill="#1f8f3e" stroke="#0a1f0e" stroke-width="5"/><path d="M-58,0 L56,0 M-20,0 L-6,-18 M10,0 L24,-18 M-20,0 L-6,18 M10,0 L24,18" stroke="#0a1f0e" stroke-width="3" fill="none"/></g><g transform="translate(370,650) rotate(-15) scale(1.2825,1.14)"><path d="M-60,0 C-50,-14 -38,-20 -28,-18 C-26,-30 -14,-34 -6,-26 C0,-36 14,-38 20,-28 C28,-36 42,-32 44,-20 C54,-20 62,-10 64,0 C62,10 54,20 44,20 C42,32 28,36 20,28 C14,38 0,36 -6,26 C-14,34 -26,30 -28,18 C-38,20 -50,14 -60,0 Z" fill="#1f8f3e" stroke="#0a1f0e" stroke-width="5"/><path d="M-58,0 L56,0 M-20,0 L-6,-18 M10,0 L24,-18 M-20,0 L-6,18 M10,0 L24,18" stroke="#0a1f0e" stroke-width="3" fill="none"/></g><g transform="translate(175,700) rotate(190) scale(1.2825,1.14)"><path d="M-60,0 C-50,-14 -38,-20 -28,-18 C-26,-30 -14,-34 -6,-26 C0,-36 14,-38 20,-28 C28,-36 42,-32 44,-20 C54,-20 62,-10 64,0 C62,10 54,20 44,20 C42,32 28,36 20,28 C14,38 0,36 -6,26 C-14,34 -26,30 -28,18 C-38,20 -50,14 -60,0 Z" fill="#1f8f3e" stroke="#0a1f0e" stroke-width="5"/><path d="M-58,0 L56,0 M-20,0 L-6,-18 M10,0 L24,-18 M-20,0 L-6,18 M10,0 L24,18" stroke="#0a1f0e" stroke-width="3" fill="none"/></g><g transform="translate(345,760) rotate(-10) scale(1.35,1.2)"><path d="M-60,0 C-50,-14 -38,-20 -28,-18 C-26,-30 -14,-34 -6,-26 C0,-36 14,-38 20,-28 C28,-36 42,-32 44,-20 C54,-20 62,-10 64,0 C62,10 54,20 44,20 C42,32 28,36 20,28 C14,38 0,36 -6,26 C-14,34 -26,30 -28,18 C-38,20 -50,14 -60,0 Z" fill="#1f8f3e" stroke="#0a1f0e" stroke-width="5"/><path d="M-58,0 L56,0 M-20,0 L-6,-18 M10,0 L24,-18 M-20,0 L-6,18 M10,0 L24,18" stroke="#0a1f0e" stroke-width="3" fill="none"/></g><g transform="translate(160,850) rotate(185) scale(1.35,1.2)"><path d="M-60,0 C-50,-14 -38,-20 -28,-18 C-26,-30 -14,-34 -6,-26 C0,-36 14,-38 20,-28 C28,-36 42,-32 44,-20 C54,-20 62,-10 64,0 C62,10 54,20 44,20 C42,32 28,36 20,28 C14,38 0,36 -6,26 C-14,34 -26,30 -28,18 C-38,20 -50,14 -60,0 Z" fill="#1f8f3e" stroke="#0a1f0e" stroke-width="5"/><path d="M-58,0 L56,0 M-20,0 L-6,-18 M10,0 L24,-18 M-20,0 L-6,18 M10,0 L24,18" stroke="#0a1f0e" stroke-width="3" fill="none"/></g><g transform="translate(300,900) rotate(-60) scale(1.215,1.08)"><path d="M-60,0 C-50,-14 -38,-20 -28,-18 C-26,-30 -14,-34 -6,-26 C0,-36 14,-38 20,-28 C28,-36 42,-32 44,-20 C54,-20 62,-10 64,0 C62,10 54,20 44,20 C42,32 28,36 20,28 C14,38 0,36 -6,26 C-14,34 -26,30 -28,18 C-38,20 -50,14 -60,0 Z" fill="#1f8f3e" stroke="#0a1f0e" stroke-width="5"/><path d="M-58,0 L56,0 M-20,0 L-6,-18 M10,0 L24,-18 M-20,0 L-6,18 M10,0 L24,18" stroke="#0a1f0e" stroke-width="3" fill="none"/></g><g transform="translate(390,870) rotate(-25) scale(1.215,1.08)"><path d="M-60,0 C-50,-14 -38,-20 -28,-18 C-26,-30 -14,-34 -6,-26 C0,-36 14,-38 20,-28 C28,-36 42,-32 44,-20 C54,-20 62,-10 64,0 C62,10 54,20 44,20 C42,32 28,36 20,28 C14,38 0,36 -6,26 C-14,34 -26,30 -28,18 C-38,20 -50,14 -60,0 Z" fill="#1f8f3e" stroke="#0a1f0e" stroke-width="5"/><path d="M-58,0 L56,0 M-20,0 L-6,-18 M10,0 L24,-18 M-20,0 L-6,18 M10,0 L24,18" stroke="#0a1f0e" stroke-width="3" fill="none"/></g><g transform="translate(180,1000) rotate(195) scale(1.35,1.2)"><path d="M-60,0 C-50,-14 -38,-20 -28,-18 C-26,-30 -14,-34 -6,-26 C0,-36 14,-38 20,-28 C28,-36 42,-32 44,-20 C54,-20 62,-10 64,0 C62,10 54,20 44,20 C42,32 28,36 20,28 C14,38 0,36 -6,26 C-14,34 -26,30 -28,18 C-38,20 -50,14 -60,0 Z" fill="#1f8f3e" stroke="#0a1f0e" stroke-width="5"/><path d="M-58,0 L56,0 M-20,0 L-6,-18 M10,0 L24,-18 M-20,0 L-6,18 M10,0 L24,18" stroke="#0a1f0e" stroke-width="3" fill="none"/></g><g transform="translate(455,1010) rotate(-30) scale(1.2825,1.14)"><path d="M-60,0 C-50,-14 -38,-20 -28,-18 C-26,-30 -14,-34 -6,-26 C0,-36 14,-38 20,-28 C28,-36 42,-32 44,-20 C54,-20 62,-10 64,0 C62,10 54,20 44,20 C42,32 28,36 20,28 C14,38 0,36 -6,26 C-14,34 -26,30 -28,18 C-38,20 -50,14 -60,0 Z" fill="#1f8f3e" stroke="#0a1f0e" stroke-width="5"/><path d="M-58,0 L56,0 M-20,0 L-6,-18 M10,0 L24,-18 M-20,0 L-6,18 M10,0 L24,18" stroke="#0a1f0e" stroke-width="3" fill="none"/></g><g transform="translate(250,1050) rotate(150) scale(1.08,0.96)"><path d="M-60,0 C-50,-14 -38,-20 -28,-18 C-26,-30 -14,-34 -6,-26 C0,-36 14,-38 20,-28 C28,-36 42,-32 44,-20 C54,-20 62,-10 64,0 C62,10 54,20 44,20 C42,32 28,36 20,28 C14,38 0,36 -6,26 C-14,34 -26,30 -28,18 C-38,20 -50,14 -60,0 Z" fill="#1f8f3e" stroke="#0a1f0e" stroke-width="5"/><path d="M-58,0 L56,0 M-20,0 L-6,-18 M10,0 L24,-18 M-20,0 L-6,18 M10,0 L24,18" stroke="#0a1f0e" stroke-width="3" fill="none"/></g><g transform="translate(330,1230) rotate(-10) scale(1.35,1.2)"><path d="M-60,0 C-50,-14 -38,-20 -28,-18 C-26,-30 -14,-34 -6,-26 C0,-36 14,-38 20,-28 C28,-36 42,-32 44,-20 C54,-20 62,-10 64,0 C62,10 54,20 44,20 C42,32 28,36 20,28 C14,38 0,36 -6,26 C-14,34 -26,30 -28,18 C-38,20 -50,14 -60,0 Z" fill="#1f8f3e" stroke="#0a1f0e" stroke-width="5"/><path d="M-58,0 L56,0 M-20,0 L-6,-18 M10,0 L24,-18 M-20,0 L-6,18 M10,0 L24,18" stroke="#0a1f0e" stroke-width="3" fill="none"/></g><g transform="translate(520,1230) rotate(20) scale(1.215,1.08)"><path d="M-60,0 C-50,-14 -38,-20 -28,-18 C-26,-30 -14,-34 -6,-26 C0,-36 14,-38 20,-28 C28,-36 42,-32 44,-20 C54,-20 62,-10 64,0 C62,10 54,20 44,20 C42,32 28,36 20,28 C14,38 0,36 -6,26 C-14,34 -26,30 -28,18 C-38,20 -50,14 -60,0 Z" fill="#1f8f3e" stroke="#0a1f0e" stroke-width="5"/><path d="M-58,0 L56,0 M-20,0 L-6,-18 M10,0 L24,-18 M-20,0 L-6,18 M10,0 L24,18" stroke="#0a1f0e" stroke-width="3" fill="none"/></g><path d="M200,400 C195,480 215,560 300,610 C340,632 380,652 408,662 L408,622 C372,606 332,586 302,566 C252,530 240,470 244,395 Z" fill="#f2e500" stroke="#0a1f0e" stroke-width="4"/><path d="M244,395 C240,470 252,530 302,566 C332,586 372,606 408,622 L412,588 C380,572 346,552 322,532 C282,500 272,452 278,390 Z" fill="#5db3e8" stroke="#0a1f0e" stroke-width="4"/><path d="M160,715 C200,760 270,800 420,845 L425,870 C280,835 205,800 165,750 Z" fill="#5db3e8" stroke="#0a1f0e" stroke-width="4"/><path d="M165,750 C205,800 280,835 425,870 L428,905 C290,875 215,840 172,790 Z" fill="#f2e500" stroke="#0a1f0e" stroke-width="4"/><path d="M300,1005 C350,1020 410,1050 440,1085 L400,1095 C370,1065 330,1045 290,1035 Z" fill="#1d2c4a" stroke="#0a1f0e" stroke-width="4"/><ellipse cx="350" cy="950" rx="30" ry="24" fill="#8b3a1a" stroke="#0a1f0e" stroke-width="4"/><ellipse cx="530" cy="1048" rx="24" ry="18" fill="#8b3a1a" stroke="#0a1f0e" stroke-width="4"/></g></g>
<path d="M384,52 H657 V300 C657,380 600,430 520.7,472 C441,430 384,380 384,300 Z" fill="#1762b8"/><path d="M388,56 H653 V300 C653,377 597,426 520.7,467 C444,426 388,377 388,300 Z" fill="#f2e500"/><path d="M403.8,140.8 H638.5 V298 C638.5,366 588,410 520.7,451 C453,410 403.8,366 403.8,298 Z" fill="#1762b8"/><rect x="403.8" y="73" width="70.4" height="60" fill="#1762b8"/><rect x="484" y="73" width="76" height="60" fill="#1762b8"/><rect x="570" y="73" width="68.5" height="60" fill="#1762b8"/><path d="M414,117 L416,88 C428,84 438,84 439,90 C441,84 452,84 465,88 L467,117 C455,113 444,113 439,117 C434,113 424,113 414,117 Z" fill="#f2e500" stroke="#1762b8" stroke-width="1.5"/><line x1="439" y1="90" x2="439" y2="116" stroke="#1762b8" stroke-width="2"/><path d="M491,100 C492,94 500,92 508,94 L532,94 C536,88 540,82 546,79 L552,81 L556,90 L550,92 L546,88 C544,96 542,102 540,106 L546,112 L550,124 L546,125 L540,114 L536,110 L520,110 L512,116 L514,128 L510,128 L506,116 C500,112 496,108 494,118 L491,116 C494,110 490,104 491,100 Z" fill="#f2e500"/><g transform="translate(604.5,104) rotate(45)"><rect x="-16" y="-16" width="32" height="32" fill="none" stroke="#f2e500" stroke-width="3.5"/><circle cx="-7" cy="-7" r="3.2" fill="#f2e500"/><circle cx="7" cy="-7" r="3.2" fill="#f2e500"/><circle cx="-7" cy="7" r="3.2" fill="#f2e500"/><circle cx="7" cy="7" r="3.2" fill="#f2e500"/></g><g transform="translate(520.7,210) rotate(0)"><ellipse cx="-8" cy="10" rx="6" ry="9" transform="rotate(-25 -8 10)" fill="#f2e500"/><ellipse cx="8" cy="10" rx="6" ry="9" transform="rotate(25 8 10)" fill="#f2e500"/><ellipse cx="-8" cy="23" rx="6" ry="9" transform="rotate(-25 -8 23)" fill="#f2e500"/><ellipse cx="8" cy="23" rx="6" ry="9" transform="rotate(25 8 23)" fill="#f2e500"/><ellipse cx="-8" cy="36" rx="6" ry="9" transform="rotate(-25 -8 36)" fill="#f2e500"/><ellipse cx="8" cy="36" rx="6" ry="9" transform="rotate(25 8 36)" fill="#f2e500"/><ellipse cx="-8" cy="49" rx="6" ry="9" transform="rotate(-25 -8 49)" fill="#f2e500"/><ellipse cx="8" cy="49" rx="6" ry="9" transform="rotate(25 8 49)" fill="#f2e500"/><ellipse cx="-8" cy="62" rx="6" ry="9" transform="rotate(-25 -8 62)" fill="#f2e500"/><ellipse cx="8" cy="62" rx="6" ry="9" transform="rotate(25 8 62)" fill="#f2e500"/><line x1="-12" y1="0" x2="-14.399999999999999" y2="-45" stroke="#f2e500" stroke-width="3"/><line x1="-6" y1="0" x2="-7.199999999999999" y2="-45" stroke="#f2e500" stroke-width="3"/><line x1="0" y1="0" x2="0.0" y2="-45" stroke="#f2e500" stroke-width="3"/><line x1="6" y1="0" x2="7.199999999999999" y2="-45" stroke="#f2e500" stroke-width="3"/><line x1="12" y1="0" x2="14.399999999999999" y2="-45" stroke="#f2e500" stroke-width="3"/><line x1="0" y1="70" x2="0" y2="120" stroke="#f2e500" stroke-width="5"/></g><g transform="translate(455,232) rotate(-38)"><ellipse cx="-8" cy="10" rx="6" ry="9" transform="rotate(-25 -8 10)" fill="#f2e500"/><ellipse cx="8" cy="10" rx="6" ry="9" transform="rotate(25 8 10)" fill="#f2e500"/><ellipse cx="-8" cy="23" rx="6" ry="9" transform="rotate(-25 -8 23)" fill="#f2e500"/><ellipse cx="8" cy="23" rx="6" ry="9" transform="rotate(25 8 23)" fill="#f2e500"/><ellipse cx="-8" cy="36" rx="6" ry="9" transform="rotate(-25 -8 36)" fill="#f2e500"/><ellipse cx="8" cy="36" rx="6" ry="9" transform="rotate(25 8 36)" fill="#f2e500"/><ellipse cx="-8" cy="49" rx="6" ry="9" transform="rotate(-25 -8 49)" fill="#f2e500"/><ellipse cx="8" cy="49" rx="6" ry="9" transform="rotate(25 8 49)" fill="#f2e500"/><ellipse cx="-8" cy="62" rx="6" ry="9" transform="rotate(-25 -8 62)" fill="#f2e500"/><ellipse cx="8" cy="62" rx="6" ry="9" transform="rotate(25 8 62)" fill="#f2e500"/><line x1="-12" y1="0" x2="-14.399999999999999" y2="-45" stroke="#f2e500" stroke-width="3"/><line x1="-6" y1="0" x2="-7.199999999999999" y2="-45" stroke="#f2e500" stroke-width="3"/><line x1="0" y1="0" x2="0.0" y2="-45" stroke="#f2e500" stroke-width="3"/><line x1="6" y1="0" x2="7.199999999999999" y2="-45" stroke="#f2e500" stroke-width="3"/><line x1="12" y1="0" x2="14.399999999999999" y2="-45" stroke="#f2e500" stroke-width="3"/><line x1="0" y1="70" x2="0" y2="120" stroke="#f2e500" stroke-width="5"/></g><g transform="translate(586,232) rotate(38)"><ellipse cx="-8" cy="10" rx="6" ry="9" transform="rotate(-25 -8 10)" fill="#f2e500"/><ellipse cx="8" cy="10" rx="6" ry="9" transform="rotate(25 8 10)" fill="#f2e500"/><ellipse cx="-8" cy="23" rx="6" ry="9" transform="rotate(-25 -8 23)" fill="#f2e500"/><ellipse cx="8" cy="23" rx="6" ry="9" transform="rotate(25 8 23)" fill="#f2e500"/><ellipse cx="-8" cy="36" rx="6" ry="9" transform="rotate(-25 -8 36)" fill="#f2e500"/><ellipse cx="8" cy="36" rx="6" ry="9" transform="rotate(25 8 36)" fill="#f2e500"/><ellipse cx="-8" cy="49" rx="6" ry="9" transform="rotate(-25 -8 49)" fill="#f2e500"/><ellipse cx="8" cy="49" rx="6" ry="9" transform="rotate(25 8 49)" fill="#f2e500"/><ellipse cx="-8" cy="62" rx="6" ry="9" transform="rotate(-25 -8 62)" fill="#f2e500"/><ellipse cx="8" cy="62" rx="6" ry="9" transform="rotate(25 8 62)" fill="#f2e500"/><line x1="-12" y1="0" x2="-14.399999999999999" y2="-45" stroke="#f2e500" stroke-width="3"/><line x1="-6" y1="0" x2="-7.199999999999999" y2="-45" stroke="#f2e500" stroke-width="3"/><line x1="0" y1="0" x2="0.0" y2="-45" stroke="#f2e500" stroke-width="3"/><line x1="6" y1="0" x2="7.199999999999999" y2="-45" stroke="#f2e500" stroke-width="3"/><line x1="12" y1="0" x2="14.399999999999999" y2="-45" stroke="#f2e500" stroke-width="3"/><line x1="0" y1="70" x2="0" y2="120" stroke="#f2e500" stroke-width="5"/></g><polygon points="512,270 529,270 524,312 517,312" fill="#f2e500"/><rect x="499" y="306" width="43" height="10" fill="#f2e500"/><polygon points="504,322 512,322 498,352 490,352" fill="#f2e500"/><polygon points="516,322 525,322 525,352 516,352" fill="#f2e500"/><polygon points="529,322 537,322 551,352 543,352" fill="#f2e500"/><text x="464" y="394" font-family="'Liberation Sans', sans-serif" font-weight="bold" font-size="38" fill="#f2e500" textLength="115" lengthAdjust="spacingAndGlyphs">НУБіП</text><text x="493" y="422" font-family="'Liberation Sans', sans-serif" font-weight="bold" font-size="26" fill="#f2e500" textLength="55" lengthAdjust="spacingAndGlyphs">1898</text>
<g transform="translate(200,20) scale(0.39409)"><path d="M560,1160 Q810,1195 1060,1160 L1065,1240 Q810,1280 570,1248 Z" fill="#e8942e" stroke="#3a2208" stroke-width="5" stroke-linejoin="round"/><path d="M55,1070 C250,1100 450,1080 640,1050 L655,1130 L560,1165 C400,1180 250,1195 90,1200 L115,1130 Z" fill="#e8942e" stroke="#3a2208" stroke-width="5" stroke-linejoin="round"/><path d="M640,1050 C610,1090 580,1130 560,1165 L655,1130 Z" fill="#c9731c" stroke="#3a2208" stroke-width="4"/><path d="M980,1050 C1200,1080 1400,1100 1575,1070 L1550,1135 L1570,1205 C1400,1200 1200,1190 1060,1160 L980,1130 Z" fill="#e8942e" stroke="#3a2208" stroke-width="5" stroke-linejoin="round"/><path d="M980,1050 C1010,1090 1040,1130 1060,1165 L980,1130 Z" fill="#c9731c" stroke="#3a2208" stroke-width="4"/><text font-family="'Liberation Sans', sans-serif" font-size="62" font-weight="bold" fill="#fff" stroke="#2a1a08" stroke-width="6" paint-order="stroke" transform="translate(130,1172) rotate(-7)" textLength="400" lengthAdjust="spacingAndGlyphs">TRADERE</text><path id="pgArc" d="M612,1232 Q812,1262 1012,1210" fill="none"/><text font-family="'Liberation Sans', sans-serif" font-size="62" font-weight="bold" fill="#fff" stroke="#2a1a08" stroke-width="6" paint-order="stroke"><textPath href="#pgArc" textLength="400" lengthAdjust="spacingAndGlyphs">PROGREDI</textPath></text><text font-family="'Liberation Sans', sans-serif" font-size="62" font-weight="bold" fill="#fff" stroke="#2a1a08" stroke-width="6" paint-order="stroke" transform="translate(1085,1132) rotate(6)" textLength="425" lengthAdjust="spacingAndGlyphs">PROSPICERE</text><g transform=""><path d="M190,1325 C260,1330 330,1350 410,1395 L360,1425 C300,1385 250,1350 190,1325 Z" fill="#5db3e8" stroke="#1a1a1a" stroke-width="4" stroke-linejoin="round"/><path d="M300,1290 C360,1300 420,1350 450,1400 C480,1450 520,1480 570,1495 L480,1515 C430,1475 400,1430 380,1390 C350,1340 320,1310 300,1290 Z" fill="#f2e500" stroke="#1a1a1a" stroke-width="4" stroke-linejoin="round"/><path d="M420,1320 C520,1350 600,1400 640,1460 C670,1510 690,1560 680,1605 L600,1595 C610,1540 580,1480 530,1440 C480,1400 440,1370 420,1320 Z" fill="#f2e500" stroke="#1a1a1a" stroke-width="4" stroke-linejoin="round"/><path d="M450,1480 C520,1510 600,1560 665,1612 L590,1612 C540,1575 490,1535 450,1480 Z" fill="#5db3e8" stroke="#1a1a1a" stroke-width="4" stroke-linejoin="round"/><path d="M760,1450 C720,1520 700,1570 690,1620 L650,1615 C680,1550 720,1500 760,1450 Z" fill="#5db3e8" stroke="#1a1a1a" stroke-width="4" stroke-linejoin="round"/><path d="M600,1385 C660,1350 730,1330 805,1340 C750,1370 680,1390 600,1385 Z" fill="#e8232a" stroke="#1a1a1a" stroke-width="4" stroke-linejoin="round"/><path d="M660,1300 C710,1300 770,1310 808,1330 C760,1340 700,1330 660,1300 Z" fill="#f2e500" stroke="#1a1a1a" stroke-width="4" stroke-linejoin="round"/><path d="M805,1360 C770,1390 740,1420 725,1450 C770,1430 795,1400 805,1360 Z" fill="#f2e500" stroke="#1a1a1a" stroke-width="4" stroke-linejoin="round"/></g><g transform="translate(1627.6,0) scale(-1,1)"><path d="M190,1325 C260,1330 330,1350 410,1395 L360,1425 C300,1385 250,1350 190,1325 Z" fill="#5db3e8" stroke="#1a1a1a" stroke-width="4" stroke-linejoin="round"/><path d="M300,1290 C360,1300 420,1350 450,1400 C480,1450 520,1480 570,1495 L480,1515 C430,1475 400,1430 380,1390 C350,1340 320,1310 300,1290 Z" fill="#f2e500" stroke="#1a1a1a" stroke-width="4" stroke-linejoin="round"/><path d="M420,1320 C520,1350 600,1400 640,1460 C670,1510 690,1560 680,1605 L600,1595 C610,1540 580,1480 530,1440 C480,1400 440,1370 420,1320 Z" fill="#f2e500" stroke="#1a1a1a" stroke-width="4" stroke-linejoin="round"/><path d="M450,1480 C520,1510 600,1560 665,1612 L590,1612 C540,1575 490,1535 450,1480 Z" fill="#5db3e8" stroke="#1a1a1a" stroke-width="4" stroke-linejoin="round"/><path d="M760,1450 C720,1520 700,1570 690,1620 L650,1615 C680,1550 720,1500 760,1450 Z" fill="#5db3e8" stroke="#1a1a1a" stroke-width="4" stroke-linejoin="round"/><path d="M600,1385 C660,1350 730,1330 805,1340 C750,1370 680,1390 600,1385 Z" fill="#e8232a" stroke="#1a1a1a" stroke-width="4" stroke-linejoin="round"/><path d="M660,1300 C710,1300 770,1310 808,1330 C760,1340 700,1330 660,1300 Z" fill="#f2e500" stroke="#1a1a1a" stroke-width="4" stroke-linejoin="round"/><path d="M805,1360 C770,1390 740,1420 725,1450 C770,1430 795,1400 805,1360 Z" fill="#f2e500" stroke="#1a1a1a" stroke-width="4" stroke-linejoin="round"/></g><line x1="813.8" y1="1290" x2="813.8" y2="1445" stroke="#111" stroke-width="5"/><path d="M813.8,1440 C770,1440 740,1460 735,1480 M813.8,1440 C790,1450 780,1465 778,1480 M813.8,1440 L813.8,1480 M813.8,1440 C838,1450 848,1465 850,1480 M813.8,1440 C858,1440 888,1460 893,1480" fill="none" stroke="#111" stroke-width="5"/><circle cx="735" cy="1485" r="19" fill="#e8232a" stroke="#222" stroke-width="4"/><circle cx="778" cy="1485" r="19" fill="#e8232a" stroke="#222" stroke-width="4"/><circle cx="814" cy="1485" r="19" fill="#e8232a" stroke="#222" stroke-width="4"/><circle cx="850" cy="1485" r="19" fill="#e8232a" stroke="#222" stroke-width="4"/><circle cx="893" cy="1485" r="19" fill="#e8232a" stroke="#222" stroke-width="4"/><circle cx="712" cy="1522" r="19" fill="#e8232a" stroke="#222" stroke-width="4"/><circle cx="752" cy="1522" r="19" fill="#e8232a" stroke="#222" stroke-width="4"/><circle cx="793" cy="1522" r="19" fill="#e8232a" stroke="#222" stroke-width="4"/><circle cx="834" cy="1522" r="19" fill="#e8232a" stroke="#222" stroke-width="4"/><circle cx="875" cy="1522" r="19" fill="#e8232a" stroke="#222" stroke-width="4"/><circle cx="915" cy="1522" r="19" fill="#e8232a" stroke="#222" stroke-width="4"/><circle cx="732" cy="1560" r="19" fill="#e8232a" stroke="#222" stroke-width="4"/><circle cx="773" cy="1560" r="19" fill="#e8232a" stroke="#222" stroke-width="4"/><circle cx="814" cy="1560" r="19" fill="#e8232a" stroke="#222" stroke-width="4"/><circle cx="855" cy="1560" r="19" fill="#e8232a" stroke="#222" stroke-width="4"/><circle cx="896" cy="1560" r="19" fill="#e8232a" stroke="#222" stroke-width="4"/><circle cx="793" cy="1596" r="19" fill="#e8232a" stroke="#222" stroke-width="4"/><circle cx="835" cy="1596" r="19" fill="#e8232a" stroke="#222" stroke-width="4"/></g>
<text x="3144.2" y="330" font-family="'Liberation Sans', sans-serif" font-size="62" fill="#5aa845" stroke="#5aa845" stroke-width="2" textLength="206" lengthAdjust="spacingAndGlyphs">UkrLand</text><text x="3357.8" y="330.7" font-family="'Liberation Sans', sans-serif" font-size="62" font-weight="bold" fill="#111" textLength="201" lengthAdjust="spacingAndGlyphs">Farming</text><text x="3359" y="360.5" font-family="'Liberation Sans', sans-serif" font-size="20" font-weight="bold" fill="#222" textLength="196" lengthAdjust="spacingAndGlyphs">Public Limited Company</text><circle cx="3607.8" cy="325.6" r="37.5" fill="#6ab04c"/><path d="M3571.2,316.1 L3578.5,312.4 L3595.6,310 L3607.8,305.1 L3622.4,308.8 L3637.1,312.4 L3643.2,318.5 L3644.4,327.1 L3634.6,333.2 L3627.3,338 L3617.6,340.5 L3610.2,347.8 L3602.9,344.1 L3595.6,340.5 L3588.3,338 L3581,333.2 L3573.7,329.5 L3570.7,322.2 Z" fill="#fff" stroke="#fff" stroke-width="2" stroke-linejoin="round"/>
<defs><linearGradient id="purp" x1="0" y1="0" x2="1" y2="1"><stop offset="0" stop-color="#3e0c56"/><stop offset="0.3" stop-color="#6a1e8c"/><stop offset="0.55" stop-color="#45105e"/><stop offset="0.8" stop-color="#6b2190"/><stop offset="1" stop-color="#3f0d58"/></linearGradient><linearGradient id="gryk" x1="0" y1="0" x2="1" y2="1"><stop offset="0" stop-color="#25252b"/><stop offset="0.5" stop-color="#45454d"/><stop offset="1" stop-color="#222228"/></linearGradient></defs><text x="3976" y="273.5" font-family="'Liberation Sans', sans-serif" font-size="150" font-weight="bold" fill="url(#purp)" stroke="url(#purp)" stroke-width="7" stroke-linejoin="round" textLength="547" lengthAdjust="spacingAndGlyphs">АГРО</text><text x="3975.5" y="380.4" font-family="'Liberation Sans', sans-serif" font-size="100" font-weight="bold" fill="url(#gryk)" stroke="url(#gryk)" stroke-width="6" stroke-linejoin="round" textLength="547" lengthAdjust="spacingAndGlyphs">КЕБЕТИ</text><text x="3791" y="453" font-family="'Liberation Sans', sans-serif" font-size="34" font-weight="bold" fill="#3a3a3f" textLength="329" lengthAdjust="spacingAndGlyphs">АГРООСВІТА</text><text x="4147" y="453" font-family="'Liberation Sans', sans-serif" font-size="34" font-weight="bold" fill="#3a3a3f" textLength="381" lengthAdjust="spacingAndGlyphs">МАЙБУТНЬОГО</text><g transform="translate(3770,160) scale(0.14158)" fill="url(#purp)"><path d="M55,500 L100,320 L410,105 L690,50 L1190,320 L1235,530 L515,175 L190,430 L1245,695 L1255,760 L1060,965 L285,960 L130,735 L880,930 L1085,790 Z"/><path d="M360,1150 L820,1235 L975,1080 L1060,975 L1150,985 L860,1300 L490,1300 Z"/><rect x="475" y="1395" width="390" height="38" rx="18"/><rect x="475" y="1455" width="390" height="40" rx="18"/><path d="M490,1520 L855,1520 L820,1580 L530,1580 Z"/></g>
</svg>
<svg style="left:0;top:0" width="4678" height="3308" viewBox="0 0 4678 3308">
<defs>
<linearGradient id="boxg" x1="0" y1="0" x2="0" y2="1"><stop offset="0" stop-color="#ffffff" stop-opacity="0.93"/><stop offset="1" stop-color="#f0f4fa" stop-opacity="0.86"/></linearGradient>
<linearGradient id="grayg" x1="0" y1="0" x2="0" y2="1"><stop offset="0" stop-color="#eeeeee"/><stop offset="1" stop-color="#c3c3c3"/></linearGradient>
<filter id="shd" x="-5%" y="-5%" width="110%" height="120%"><feGaussianBlur in="SourceAlpha" stdDeviation="3"/><feOffset dx="2" dy="4"/><feComponentTransfer><feFuncA type="linear" slope="0.35"/></feComponentTransfer><feMerge><feMergeNode/><feMergeNode in="SourceGraphic"/></feMerge></filter>
</defs>
<polygon points="2322,927 1743,1731 2901,1731" fill="#548ed6"/>
<rect x="2046" y="1077" width="569" height="191" rx="33" ry="33" fill="url(#boxg)" stroke="#000" stroke-width="4.5"/>
<rect x="1917" y="1298" width="828" height="189" rx="33" ry="33" fill="url(#boxg)" stroke="#000" stroke-width="4.5"/>
<rect x="1804" y="1522" width="1053" height="189" rx="33" ry="33" fill="url(#boxg)" stroke="#000" stroke-width="4.5"/>
<text x="2112.6" y="1128.7" font-size="33" font-family="'Liberation Serif', serif" textLength="431.4" lengthAdjust="spacingAndGlyphs" font-weight="normal" fill="#000" fill="#1c1c1c" stroke="#1c1c1c" stroke-width="0.25" style="white-space:pre"><tspan font-weight="bold">Стратегія</tspan> - загальний план та</text>
<text x="2068.4" y="1163.7" font-size="33" font-family="'Liberation Serif', serif" textLength="516.8" lengthAdjust="spacingAndGlyphs" font-weight="normal" fill="#000" fill="#1c1c1c" stroke="#1c1c1c" stroke-width="0.25" style="white-space:pre">сукупність  правил, що забезпечують</text>
<text x="2071.5" y="1197.0" font-size="33" font-family="'Liberation Serif', serif" textLength="512.2" lengthAdjust="spacingAndGlyphs" font-weight="normal" fill="#000" fill="#1c1c1c" stroke="#1c1c1c" stroke-width="0.25" style="white-space:pre">досягнення  мети у довгостроковому</text>
<text x="2278.8" y="1227.7" font-size="33" font-family="'Liberation Serif', serif" textLength="96.9" lengthAdjust="spacingAndGlyphs" font-weight="normal" fill="#000" fill="#1c1c1c" stroke="#1c1c1c" stroke-width="0.25" style="white-space:pre">періоді</text>
<text x="1944.3" y="1350.6" font-size="33" font-family="'Liberation Serif', serif" textLength="767.3" lengthAdjust="spacingAndGlyphs" font-weight="normal" fill="#000" fill="#1c1c1c" stroke="#1c1c1c" stroke-width="0.25" style="white-space:pre"><tspan font-weight="bold">Система управління</tspan> - комплекс  заходів  спрмованих</text>
<text x="1984.5" y="1384.5" font-size="33" font-family="'Liberation Serif', serif" textLength="687.9" lengthAdjust="spacingAndGlyphs" font-weight="normal" fill="#000" fill="#1c1c1c" stroke="#1c1c1c" stroke-width="0.25" style="white-space:pre">на визначення потреби (планування), організацію</text>
<text x="1959.0" y="1420.0" font-size="33" font-family="'Liberation Serif', serif" textLength="738.0" lengthAdjust="spacingAndGlyphs" font-weight="normal" fill="#000" fill="#1c1c1c" stroke="#1c1c1c" stroke-width="0.25" style="white-space:pre">постачання, зберігання  та використання, конроль за</text>
<text x="2113.0" y="1454.0" font-size="33" font-family="'Liberation Serif', serif" textLength="431.3" lengthAdjust="spacingAndGlyphs" font-weight="normal" fill="#000" fill="#1c1c1c" stroke="#1c1c1c" stroke-width="0.25" style="white-space:pre">раціональним використанням.</text>
<text x="1896.0" y="1607.7" font-size="33" font-family="'Liberation Serif', serif" textLength="866.0" lengthAdjust="spacingAndGlyphs" font-weight="normal" fill="#000" fill="#1c1c1c" stroke="#1c1c1c" stroke-width="0.25" style="white-space:pre"><tspan font-weight="bold">Методи управління</tspan> - набір інструментів  за допомогою яких</text>
<text x="1944.3" y="1642.2" font-size="33" font-family="'Liberation Serif', serif" textLength="764.1" lengthAdjust="spacingAndGlyphs" font-weight="normal" fill="#000" fill="#1c1c1c" stroke="#1c1c1c" stroke-width="0.25" style="white-space:pre">реалізуються  функції  управління (аналіз,  нормування</text>
<text x="1758.7" y="1791.0" font-size="30.8" font-family="'Liberation Sans', sans-serif" textLength="1115.9" lengthAdjust="spacingAndGlyphs" font-weight="bold" fill="#404040" font-style="italic">Рисунок 1 — Рівні управління матеріальними ресурсами підприємства</text>
<rect x="2055" y="2031" width="480" height="109" rx="22" ry="22" fill="url(#grayg)" stroke="#58c086" stroke-width="3.2" filter="url(#shd)"/>
<rect x="1658" y="2279" width="1330" height="98" rx="22" ry="22" fill="url(#grayg)" stroke="#58c086" stroke-width="3.2" filter="url(#shd)"/>
<rect x="1658" y="2380" width="391" height="235" rx="36" ry="36" fill="url(#grayg)" stroke="#58c086" stroke-width="3.2" filter="url(#shd)"/>
<rect x="2051" y="2380" width="534" height="235" rx="36" ry="36" fill="url(#grayg)" stroke="#58c086" stroke-width="3.2" filter="url(#shd)"/>
<rect x="2587" y="2380" width="402" height="235" rx="36" ry="36" fill="url(#grayg)" stroke="#58c086" stroke-width="3.2" filter="url(#shd)"/>
<rect x="1668" y="2712" width="1321" height="100" rx="24" ry="24" fill="url(#grayg)" stroke="#58c086" stroke-width="3.2" filter="url(#shd)"/>
<rect x="2016" y="2904" width="570" height="149" rx="24" ry="24" fill="url(#grayg)" stroke="#58c086" stroke-width="3.2" filter="url(#shd)"/>
<polygon points="2239.0,2143.0 2351.0,2143.0 2351.0,2211.0 2411.0,2211.0 2295.0,2276.0 2179.0,2211.0 2239.0,2211.0" fill="#80d9a4" stroke="#000" stroke-width="5" stroke-linejoin="miter"/>
<polygon points="1848.0,2616.0 1880.0,2616.0 1880.0,2668.0 1910.0,2668.0 1864.0,2713.0 1818.0,2668.0 1848.0,2668.0" fill="#80d9a4" stroke="#000" stroke-width="5" stroke-linejoin="miter"/>
<polygon points="2283.0,2616.0 2326.0,2616.0 2326.0,2668.0 2348.5,2668.0 2304.5,2713.0 2260.5,2668.0 2283.0,2668.0" fill="#80d9a4" stroke="#000" stroke-width="5" stroke-linejoin="miter"/>
<polygon points="2773.5,2616.0 2808.5,2616.0 2808.5,2668.0 2834.0,2668.0 2791.0,2713.0 2748.0,2668.0 2773.5,2668.0" fill="#80d9a4" stroke="#000" stroke-width="5" stroke-linejoin="miter"/>
<polygon points="2277.0,2813.0 2321.0,2813.0 2321.0,2861.0 2346.0,2861.0 2299.0,2904.0 2252.0,2861.0 2277.0,2861.0" fill="#80d9a4" stroke="#000" stroke-width="5" stroke-linejoin="miter"/>
<text x="2295.0" y="2089.7" font-size="36" font-family="'Liberation Serif', serif" text-anchor="middle" font-weight="bold" fill="#111" stroke="#111" stroke-width="0.4">Суб’єкт управління</text>
<text x="2323.3" y="2331.4" font-size="36" font-family="'Liberation Serif', serif" text-anchor="middle" font-weight="bold" fill="#111" stroke="#111" stroke-width="0.4">Функції управління</text>
<text x="1852.5" y="2468.4" font-size="36" font-family="'Liberation Serif', serif" text-anchor="middle" fill="#111" stroke="#111" stroke-width="0.4">Планування</text>
<text x="1852.5" y="2531.8" font-size="36" font-family="'Liberation Serif', serif" text-anchor="middle" fill="#111" stroke="#111" stroke-width="0.4">ресурсів</text>
<text x="2318.4" y="2437.0" font-size="36" font-family="'Liberation Serif', serif" text-anchor="middle" fill="#111" stroke="#111" stroke-width="0.4">Організація постачання,</text>
<text x="2318.4" y="2499.0" font-size="36" font-family="'Liberation Serif', serif" text-anchor="middle" fill="#111" stroke="#111" stroke-width="0.4">зберігання та використання</text>
<text x="2318.4" y="2561.4" font-size="36" font-family="'Liberation Serif', serif" text-anchor="middle" fill="#111" stroke="#111" stroke-width="0.4">матеріальних ресурсів</text>
<text x="2788.0" y="2437.0" font-size="36" font-family="'Liberation Serif', serif" text-anchor="middle" fill="#111" stroke="#111" stroke-width="0.4">Контроль</text>
<text x="2788.0" y="2499.0" font-size="36" font-family="'Liberation Serif', serif" text-anchor="middle" fill="#111" stroke="#111" stroke-width="0.4">ефективності</text>
<text x="2788.0" y="2561.4" font-size="36" font-family="'Liberation Serif', serif" text-anchor="middle" fill="#111" stroke="#111" stroke-width="0.4">використання</text>
<text x="2327.2" y="2764.0" font-size="36.2" font-family="'Liberation Serif', serif" text-anchor="middle" fill="#111" stroke="#111" stroke-width="0.4">Методи та інструменти реалізації управляючого впливу</text>
<text x="2300.5" y="2956.0" font-size="36" font-family="'Liberation Serif', serif" text-anchor="middle" font-weight="bold" fill="#111" stroke="#111" stroke-width="0.4">Об’єкт управління</text>
<text x="2300.5" y="3020.0" font-size="36" font-family="'Liberation Serif', serif" text-anchor="middle" font-weight="bold" fill="#111" stroke="#111" stroke-width="0.4">(матеріальні ресурси)</text>
</svg>
<svg style="left:0;top:0" width="4678" height="3308" viewBox="0 0 4678 3308">
<g fill="none" stroke="#e5e5e5" stroke-width="4"><polyline points="3253,1797 3253,1539 3580,1539 3580,1797"/><polyline points="3299,1582 3328,1622 3358,1582 3388,1622 3418,1582 3448,1622 3478,1582 3508,1622 3538,1582" stroke-width="5"/><polyline points="3299,1667 3328,1707 3358,1667 3388,1707 3418,1667 3448,1707 3478,1667 3508,1707 3538,1667" stroke-width="5"/><polyline points="3299,1751 3328,1791 3358,1751 3388,1791 3418,1751 3448,1791 3478,1751 3508,1791 3538,1751" stroke-width="5"/></g>
<g font-family="'Liberation Sans', sans-serif" font-size="61" fill="#e5e5e5"><text x="3678" y="1620" textLength="871" lengthAdjust="spacingAndGlyphs">Національний університет</text><text x="3678" y="1708" textLength="723" lengthAdjust="spacingAndGlyphs">водного господарства</text></g>
<svg x="3600" y="1720" width="1000" height="78" overflow="hidden"><text x="78" y="72" font-family="'Liberation Sans', sans-serif" font-size="61" fill="#e5e5e5" textLength="821" lengthAdjust="spacingAndGlyphs">та природокористування</text></svg>
<rect x="3590" y="1168" width="301" height="150" fill="#fff" stroke="#000" stroke-width="3.2"/>
<rect x="3929" y="1168" width="302" height="150" fill="#fff" stroke="#000" stroke-width="3.2"/>
<rect x="3590" y="1470" width="301" height="112" fill="#fff" stroke="#000" stroke-width="3.2"/>
<rect x="3929" y="1470" width="302" height="112" fill="#fff" stroke="#000" stroke-width="3.2"/>
<g font-family="'Liberation Serif', serif" font-size="41.8" text-anchor="middle" fill="#111"><text x="3740" y="1208.2">Збутові</text><text x="3740" y="1256.5">запаси</text><text x="4079.5" y="1208.2">Виробництво</text><text x="4079.5" y="1256">матеріальних</text><text x="4079.5" y="1304.9">ресурсів</text><text x="3740.5" y="1508.7">Незавершене</text><text x="3740" y="1557">виробництво</text><text x="4079.8" y="1508.7">Виробничі запа-</text><text x="4079.4" y="1557">си</text></g>
<path d="M3739.5,1130.2 C3739.5,1127.1 3737.2,1121.0 3739.5,1111.5 C3741.8,1101.9 3743.0,1085.7 3753.4,1072.8 C3763.7,1059.9 3782.9,1043.3 3801.7,1034.1 C3820.5,1025.0 3843.1,1020.8 3866.2,1018.0 C3889.3,1015.2 3928.0,1017.5 3940.3,1017.4 L3940.3,1017.4 C3936.0,1018.0 3926.9,1017.9 3914.5,1021.2 C3902.2,1024.6 3881.2,1028.8 3866.2,1037.4 C3851.1,1045.9 3834.0,1059.9 3824.3,1072.8 C3814.6,1085.7 3810.9,1105.1 3808.2,1114.7 C3805.5,1124.3 3808.2,1127.6 3808.2,1130.2 Z" fill="#c8c8c8" stroke="#000" stroke-width="2.6" stroke-linejoin="round"/>
<path d="M3940.3,1017.4 C3952.1,1018.0 3988.7,1016.8 4011.2,1021.2 C4033.8,1025.6 4056.9,1033.6 4075.7,1043.8 C4094.5,1054.0 4113.8,1070.7 4124.0,1082.5 C4134.2,1094.3 4134.8,1109.3 4136.9,1114.7 L4191.7,1115.7 L4104.0,1130.2 L4012.8,1115.7 L4068.6,1114.7 C4067.1,1109.3 4066.4,1093.2 4059.6,1082.5 C4052.7,1071.7 4040.8,1059.9 4027.3,1050.2 C4013.9,1040.6 3993.5,1029.9 3979.0,1024.5 C3964.5,1019.0 3946.8,1018.6 3940.3,1017.4 Z" fill="#fff" stroke="#000" stroke-width="2.6" stroke-linejoin="miter"/>
<path d="M4257.9,1212.0 C4269.7,1212.6 4305.3,1212.0 4328.3,1215.5 C4351.4,1219.0 4375.7,1225.2 4396.1,1233.1 C4416.4,1241.0 4436.2,1251.6 4450.2,1262.9 C4464.2,1274.2 4473.5,1286.4 4480.0,1300.8 C4486.6,1315.3 4487.9,1341.5 4489.5,1349.6 L4489.5,1349.6 C4487.9,1346.9 4486.6,1340.1 4480.0,1333.3 C4473.5,1326.6 4464.2,1317.5 4450.2,1309.0 C4436.2,1300.4 4416.4,1288.9 4396.1,1281.9 C4375.7,1274.9 4350.9,1270.1 4328.3,1267.0 C4305.8,1263.8 4271.9,1263.6 4260.6,1262.9 Z" fill="#c8c8c8" stroke="#000" stroke-width="2.6" stroke-linejoin="round"/>
<path d="M4489.5,1349.6 C4490.2,1354.1 4493.8,1365.4 4493.6,1376.7 C4493.3,1388.0 4493.1,1403.8 4488.1,1417.3 C4483.2,1430.9 4476.9,1445.8 4463.8,1457.9 C4450.7,1470.1 4428.6,1482.8 4409.6,1490.4 C4390.6,1498.1 4367.2,1501.3 4350.0,1504.0 C4332.9,1506.7 4313.9,1506.2 4306.7,1506.7 L4306.7,1548.7 L4274.2,1483.7 L4298.5,1414.6 L4301.3,1456.6 C4306.7,1456.1 4320.2,1455.9 4333.8,1453.9 C4347.3,1451.8 4365.4,1449.6 4382.5,1444.4 C4399.7,1439.2 4421.8,1431.8 4436.7,1422.7 C4451.6,1413.7 4463.1,1402.4 4471.9,1390.2 C4480.7,1378.0 4486.6,1356.4 4489.5,1349.6 Z" fill="#fff" stroke="#000" stroke-width="2.6" stroke-linejoin="miter"/>
<path d="M3562.1,1538.5 C3550.0,1537.8 3511.8,1537.8 3489.4,1534.8 C3467.0,1531.7 3446.3,1527.0 3427.8,1520.0 C3409.3,1513.0 3392.9,1504.0 3378.5,1492.9 C3364.2,1481.8 3350.0,1465.4 3341.6,1453.5 C3333.2,1441.6 3330.3,1430.3 3328.0,1421.4 C3325.8,1412.6 3328.0,1404.0 3328.0,1400.5 L3328.0,1400.5 C3331.1,1403.6 3338.1,1411.4 3346.5,1419.0 C3354.9,1426.6 3365.0,1437.5 3378.5,1446.1 C3392.1,1454.7 3409.3,1464.1 3427.8,1470.7 C3446.3,1477.3 3467.4,1482.6 3489.4,1485.5 C3511.4,1488.4 3547.9,1487.5 3559.6,1488.0 Z" fill="#c8c8c8" stroke="#000" stroke-width="2.6" stroke-linejoin="round"/>
<path d="M3328.0,1400.5 C3327.6,1395.8 3323.7,1384.3 3325.6,1372.2 C3327.4,1360.1 3330.3,1342.2 3339.1,1327.8 C3348.0,1313.4 3361.7,1297.4 3378.5,1285.9 C3395.4,1274.4 3417.8,1265.7 3440.1,1258.8 C3462.5,1251.9 3500.7,1246.9 3512.8,1244.5 L3511.6,1202.2 L3544.8,1266.2 L3520.2,1335.2 L3519.0,1294.6 C3509.9,1296.0 3484.1,1297.6 3464.8,1303.2 C3445.5,1308.7 3421.7,1317.6 3403.2,1327.8 C3384.7,1338.1 3366.4,1352.7 3353.9,1364.8 C3341.4,1376.9 3332.4,1394.5 3328.0,1400.5 Z" fill="#fff" stroke="#000" stroke-width="2.6" stroke-linejoin="miter"/>
<path d="M4156.0,1620.7 C4155.8,1625.1 4159.2,1636.0 4154.6,1647.3 C4149.9,1658.7 4142.2,1676.9 4127.9,1688.8 C4113.6,1700.6 4088.4,1711.5 4068.7,1718.4 C4048.9,1725.3 4027.7,1728.0 4009.4,1730.2 C3991.2,1732.5 3967.5,1731.5 3959.1,1731.7 L3959.1,1731.7 C3967.5,1729.5 3993.6,1725.1 4009.4,1718.4 C4025.2,1711.7 4041.5,1702.6 4053.9,1691.7 C4066.2,1680.9 4077.6,1665.1 4083.5,1653.2 C4089.4,1641.4 4088.4,1626.1 4089.4,1620.7 Z" fill="#c8c8c8" stroke="#000" stroke-width="2.6" stroke-linejoin="round"/>
<path d="M3959.1,1731.7 C3945.3,1731.2 3899.9,1733.0 3876.2,1728.8 C3852.5,1724.6 3834.2,1716.2 3816.9,1706.5 C3799.7,1696.9 3782.1,1682.9 3772.5,1671.0 C3762.9,1659.2 3761.4,1641.4 3759.2,1635.5 L3704.4,1634.9 L3791.8,1620.1 L3882.1,1634.9 L3825.8,1635.5 C3826.8,1639.4 3825.8,1650.3 3831.7,1659.2 C3837.7,1668.0 3849.0,1679.4 3861.4,1688.8 C3873.7,1698.2 3889.5,1708.3 3905.8,1715.4 C3922.1,1722.6 3950.2,1729.0 3959.1,1731.7 Z" fill="#fff" stroke="#000" stroke-width="2.6" stroke-linejoin="miter"/>
<path id="arcTop" d="M3870,1012 A170,170 0 0 1 4040,1012" fill="none"/>
<text font-family="'Liberation Serif', serif" font-size="40" font-weight="bold" fill="#000"><textPath href="#arcTop" startOffset="50%" text-anchor="middle" textLength="136" lengthAdjust="spacingAndGlyphs">продаж</textPath></text>
<path id="arcBot" d="M3852,1742 A300,300 0 0 0 4086,1742" fill="none"/>
<text font-family="'Liberation Serif', serif" font-size="40" font-weight="bold" fill="#000"><textPath href="#arcBot" startOffset="50%" text-anchor="middle" textLength="236" lengthAdjust="spacingAndGlyphs">виробництво</textPath></text>
<text x="0" y="10.4" transform="translate(4490.7,1205.1) rotate(-37.4) scale(1.15,0.95)" font-family="'Liberation Serif', serif" font-size="46" font-weight="bold" text-anchor="middle">т</text><text x="0" y="5.7" transform="translate(4504.5,1233.1) rotate(-31.0) scale(1.15,0.95)" font-family="'Liberation Serif', serif" font-size="46" font-weight="bold" text-anchor="middle">р</text><text x="0" y="10.4" transform="translate(4515.8,1261.7) rotate(-24.8) scale(1.15,0.95)" font-family="'Liberation Serif', serif" font-size="46" font-weight="bold" text-anchor="middle">а</text><text x="0" y="10.4" transform="translate(4523.1,1285.3) rotate(-19.8) scale(1.15,0.95)" font-family="'Liberation Serif', serif" font-size="46" font-weight="bold" text-anchor="middle">н</text><text x="0" y="10.4" transform="translate(4528.7,1308.9) rotate(-14.9) scale(1.15,0.95)" font-family="'Liberation Serif', serif" font-size="46" font-weight="bold" text-anchor="middle">с</text><text x="0" y="10.4" transform="translate(4532.7,1332.5) rotate(-10.1) scale(1.15,0.95)" font-family="'Liberation Serif', serif" font-size="46" font-weight="bold" text-anchor="middle">п</text><text x="0" y="10.4" transform="translate(4535.1,1356.1) rotate(-5.3) scale(1.15,0.95)" font-family="'Liberation Serif', serif" font-size="46" font-weight="bold" text-anchor="middle">о</text><text x="0" y="5.7" transform="translate(4536.0,1384.6) rotate(0.5) scale(1.15,0.95)" font-family="'Liberation Serif', serif" font-size="46" font-weight="bold" text-anchor="middle">р</text><text x="0" y="10.4" transform="translate(4534.7,1412.7) rotate(6.2) scale(1.15,0.95)" font-family="'Liberation Serif', serif" font-size="46" font-weight="bold" text-anchor="middle">т</text><text x="0" y="5.5" transform="translate(4531.3,1440.5) rotate(11.9) scale(1.15,0.95)" font-family="'Liberation Serif', serif" font-size="46" font-weight="bold" text-anchor="middle">у</text><text x="0" y="10.4" transform="translate(4525.7,1468.4) rotate(17.7) scale(1.15,0.95)" font-family="'Liberation Serif', serif" font-size="46" font-weight="bold" text-anchor="middle">в</text><text x="0" y="10.4" transform="translate(4519.2,1492.0) rotate(22.6) scale(1.15,0.95)" font-family="'Liberation Serif', serif" font-size="46" font-weight="bold" text-anchor="middle">а</text><text x="0" y="10.4" transform="translate(4510.9,1515.6) rotate(27.7) scale(1.15,0.95)" font-family="'Liberation Serif', serif" font-size="46" font-weight="bold" text-anchor="middle">н</text><text x="0" y="10.4" transform="translate(4500.9,1538.8) rotate(32.8) scale(1.15,0.95)" font-family="'Liberation Serif', serif" font-size="46" font-weight="bold" text-anchor="middle">н</text><text x="0" y="10.4" transform="translate(4489.0,1561.9) rotate(38.1) scale(1.15,0.95)" font-family="'Liberation Serif', serif" font-size="46" font-weight="bold" text-anchor="middle">я</text>
<text x="0" y="10.4" transform="translate(3320.1,1272.1) rotate(18.5) scale(1.15,0.95)" font-family="'Liberation Serif', serif" font-size="46" font-weight="bold" text-anchor="middle">в</text><text x="0" y="10.4" transform="translate(3314.5,1296.5) rotate(15.2) scale(1.15,0.95)" font-family="'Liberation Serif', serif" font-size="46" font-weight="bold" text-anchor="middle">и</text><text x="0" y="5.7" transform="translate(3309.3,1325.8) rotate(11.2) scale(1.15,0.95)" font-family="'Liberation Serif', serif" font-size="46" font-weight="bold" text-anchor="middle">р</text><text x="0" y="10.4" transform="translate(3305.6,1355.5) rotate(7.2) scale(1.15,0.95)" font-family="'Liberation Serif', serif" font-size="46" font-weight="bold" text-anchor="middle">о</text><text x="0" y="16.0" transform="translate(3303.5,1386.2) rotate(3.1) scale(1.15,0.95)" font-family="'Liberation Serif', serif" font-size="46" font-weight="bold" text-anchor="middle">б</text><text x="0" y="10.4" transform="translate(3303.0,1416.4) rotate(-1.0) scale(1.15,0.95)" font-family="'Liberation Serif', serif" font-size="46" font-weight="bold" text-anchor="middle">н</text><text x="0" y="10.4" transform="translate(3303.9,1440.8) rotate(-4.3) scale(1.15,0.95)" font-family="'Liberation Serif', serif" font-size="46" font-weight="bold" text-anchor="middle">и</text><text x="0" y="6.4" transform="translate(3306.2,1469.0) rotate(-8.0) scale(1.15,0.95)" font-family="'Liberation Serif', serif" font-size="46" font-weight="bold" text-anchor="middle">ц</text><text x="0" y="10.4" transform="translate(3310.0,1497.3) rotate(-11.9) scale(1.15,0.95)" font-family="'Liberation Serif', serif" font-size="46" font-weight="bold" text-anchor="middle">т</text><text x="0" y="10.4" transform="translate(3314.5,1521.7) rotate(-15.2) scale(1.15,0.95)" font-family="'Liberation Serif', serif" font-size="46" font-weight="bold" text-anchor="middle">в</text><text x="0" y="10.4" transform="translate(3320.2,1546.5) rotate(-18.6) scale(1.15,0.95)" font-family="'Liberation Serif', serif" font-size="46" font-weight="bold" text-anchor="middle">о</text>
</svg>
<svg style="left:0;top:0" width="4678" height="3308" viewBox="0 0 4678 3308">
<g fill="none" stroke="#e6e6e6" stroke-width="4"><rect x="723" y="2367" width="212" height="228"/></g>
<g fill="none" stroke="#e6e6e6" stroke-width="5"><polyline points="739,2400 783,2450 739,2500 783,2550 739,2570"/><polyline points="799,2400 843,2450 799,2500 843,2550 799,2570"/><polyline points="858,2400 902,2450 858,2500 902,2550 858,2570"/></g>
<svg x="700" y="2560" width="260" height="666" overflow="hidden"><g font-family="'Liberation Sans', sans-serif" font-size="43" fill="#e6e6e6"><text transform="translate(174,82) rotate(90)" textLength="630" lengthAdjust="spacingAndGlyphs">Національний університет</text><text transform="translate(111,82) rotate(90)" textLength="519" lengthAdjust="spacingAndGlyphs">водного господарства</text><text transform="translate(50,82) rotate(90)" textLength="630" lengthAdjust="spacingAndGlyphs">та природокористування</text></g></svg>
<g fill="none" stroke="#e9e9e9" stroke-width="2.5"><rect x="1455" y="2305" width="84" height="89"/><polyline points="1469.6,2314 1481.6,2328 1469.6,2342 1481.6,2356 1469.6,2370 1481.6,2383"/><polyline points="1491.5,2314 1503.5,2328 1491.5,2342 1503.5,2356 1491.5,2370 1503.5,2383"/><polyline points="1514.8,2314 1526.8,2328 1514.8,2342 1526.8,2356 1514.8,2370 1526.8,2383"/></g>
<g font-family="'Liberation Sans', sans-serif" font-size="19" fill="#e6e6e6"><text transform="translate(1515.6,2420) rotate(90)" textLength="238" lengthAdjust="spacingAndGlyphs">Національний університет</text><text transform="translate(1489.8,2420) rotate(90)" textLength="196" lengthAdjust="spacingAndGlyphs">водного господарства</text><text transform="translate(1465,2420) rotate(90)" textLength="225" lengthAdjust="spacingAndGlyphs">та природокористування</text></g>
<polyline points="813.8,2442 813.8,2619" fill="none" stroke="#111" stroke-width="1.8"/>
<polyline points="240.6,2463.5 1388.5,2463.5" fill="none" stroke="#111" stroke-width="1.8"/>
<polyline points="240.6,2463.5 239,2497" fill="none" stroke="#111" stroke-width="1.8"/>
<polyline points="424,2463.5 424,2619" fill="none" stroke="#111" stroke-width="1.8"/>
<polyline points="605.9,2463.5 605.9,2490" fill="none" stroke="#111" stroke-width="1.8"/>
<polyline points="1023.3,2463.5 1023.3,2490" fill="none" stroke="#111" stroke-width="1.8"/>
<polyline points="1206,2463.5 1206,2619" fill="none" stroke="#111" stroke-width="1.8"/>
<polyline points="1388.5,2463.5 1388.5,2490" fill="none" stroke="#111" stroke-width="1.8"/>
<rect x="370.2" y="2367.4" width="938.4" height="74.7" fill="#fff" stroke="#000" stroke-width="3.6"/>
<rect x="161.3" y="2497" width="235.4" height="76.2" fill="#fff" stroke="#000" stroke-width="3.6"/>
<rect x="448" y="2497" width="339.9" height="76.2" fill="#fff" stroke="#000" stroke-width="3.6"/>
<rect x="839" y="2497" width="339.7" height="76.0" fill="#fff" stroke="#000" stroke-width="3.6"/>
<rect x="1229.6" y="2497" width="208.9" height="76.0" fill="#fff" stroke="#000" stroke-width="3.6"/>
<rect x="239" y="2619" width="340.7" height="76.0" fill="#fff" stroke="#000" stroke-width="3.6"/>
<rect x="655.2" y="2619.8" width="340.1" height="75.2" fill="#fff" stroke="#000" stroke-width="3.6"/>
<rect x="1073.3" y="2619.8" width="314.2" height="75.2" fill="#fff" stroke="#000" stroke-width="3.6"/>
<polyline points="187.5,2573 187.5,2731.7 318.6,2731.7" fill="none" stroke="#111" stroke-width="1.8"/>
<polyline points="213.4,2731.7 213.4,2757.6" fill="none" stroke="#111" stroke-width="1.8"/>
<polyline points="265.9,2731.7 265.9,2757.6" fill="none" stroke="#111" stroke-width="1.8"/>
<polyline points="318.6,2731.7 318.6,2757.6" fill="none" stroke="#111" stroke-width="1.8"/>
<polyline points="605,2573 605,2731.7" fill="none" stroke="#111" stroke-width="1.8"/>
<polyline points="578.6,2757.6 578.6,2731.7 630.3,2731.7 630.3,2757.6" fill="none" stroke="#111" stroke-width="1.8"/>
<polyline points="1021.6,2573 1021.6,2732" fill="none" stroke="#111" stroke-width="1.8"/>
<polyline points="839.4,2758.5 839.4,2732 1099.3,2732 1099.3,2758.5" fill="none" stroke="#111" stroke-width="1.8"/>
<polyline points="943,2732 943,2758.5" fill="none" stroke="#111" stroke-width="1.8"/>
<polyline points="1021.6,2732 1021.6,2758.5" fill="none" stroke="#111" stroke-width="1.8"/>
<polyline points="1412,2573 1412,2758.5" fill="none" stroke="#111" stroke-width="1.8"/>
<polyline points="1334.3,2758.5 1334.3,2732 1464.4,2732 1464.4,2758.5" fill="none" stroke="#111" stroke-width="1.8"/>
<polyline points="422.8,2695 422.8,2981.7" fill="none" stroke="#111" stroke-width="1.8"/>
<polyline points="319.3,2981.7 319.3,2954 501.4,2954 501.4,2981.7" fill="none" stroke="#111" stroke-width="1.8"/>
<polyline points="709,2695 709,2956" fill="none" stroke="#111" stroke-width="1.8"/>
<polyline points="683,2981.7 683,2956 760.7,2956 760.7,2981.7" fill="none" stroke="#111" stroke-width="1.8"/>
<polyline points="1257.5,2695 1257.5,2955.4" fill="none" stroke="#111" stroke-width="1.8"/>
<polyline points="1177.7,2981.9 1177.7,2955.4 1334.3,2955.4 1334.3,2981.9" fill="none" stroke="#111" stroke-width="1.8"/>
<polyline points="1230,2955.4 1230,2981.9" fill="none" stroke="#111" stroke-width="1.8"/>
<polyline points="1282.3,2955.4 1282.3,2981.9" fill="none" stroke="#111" stroke-width="1.8"/>
<polyline points="500.3,3111.7 500.3,3138.6" fill="none" stroke="#111" stroke-width="1.8"/>
<polyline points="265.9,3164.5 265.9,3138.6 604.8,3138.6 604.8,3164.5" fill="none" stroke="#111" stroke-width="1.8"/>
<rect x="161.7" y="2757.6" width="182.8" height="182.7" fill="#fff" stroke="#000" stroke-width="3.0"/>
<line x1="240" y1="2757.6" x2="240" y2="2940.3" stroke="#000" stroke-width="3.0"/>
<line x1="291.7" y1="2757.6" x2="291.7" y2="2940.3" stroke="#000" stroke-width="3.0"/>
<rect x="552.8" y="2757.6" width="104.4" height="182.7" fill="#fff" stroke="#000" stroke-width="3.0"/>
<line x1="604.5" y1="2757.6" x2="604.5" y2="2940.3" stroke="#000" stroke-width="3.0"/>
<rect x="787.1" y="2758.5" width="365.2" height="182.0" fill="#fff" stroke="#000" stroke-width="3.0"/>
<line x1="891.4" y1="2758.5" x2="891.4" y2="2940.5" stroke="#000" stroke-width="3.0"/>
<line x1="969.2" y1="2758.5" x2="969.2" y2="2940.5" stroke="#000" stroke-width="3.0"/>
<line x1="1047.3" y1="2758.5" x2="1047.3" y2="2940.5" stroke="#000" stroke-width="3.0"/>
<rect x="1308.5" y="2758.5" width="182.1" height="182.0" fill="#fff" stroke="#000" stroke-width="3.0"/>
<line x1="1386.3" y1="2758.5" x2="1386.3" y2="2940.5" stroke="#000" stroke-width="3.0"/>
<line x1="1438.6" y1="2758.5" x2="1438.6" y2="2940.5" stroke="#000" stroke-width="3.0"/>
<rect x="265.9" y="2981.7" width="313.1" height="130.0" fill="#fff" stroke="#000" stroke-width="3.0"/>
<line x1="370.3" y1="2981.7" x2="370.3" y2="3111.7" stroke="#000" stroke-width="3.0"/>
<line x1="474.5" y1="2981.7" x2="474.5" y2="3111.7" stroke="#000" stroke-width="3.0"/>
<rect x="657.2" y="2981.7" width="130.0" height="130.0" fill="#fff" stroke="#000" stroke-width="3.0"/>
<line x1="734.8" y1="2981.7" x2="734.8" y2="3111.7" stroke="#000" stroke-width="3.0"/>
<rect x="1125.8" y="2981.9" width="235.0" height="130.1" fill="#fff" stroke="#000" stroke-width="3.0"/>
<line x1="1203.6" y1="2981.9" x2="1203.6" y2="3112" stroke="#000" stroke-width="3.0"/>
<line x1="1255.9" y1="2981.9" x2="1255.9" y2="3112" stroke="#000" stroke-width="3.0"/>
<line x1="1307.8" y1="2981.9" x2="1307.8" y2="3112" stroke="#000" stroke-width="3.0"/>
<rect x="161.4" y="3164.5" width="495.8" height="51.7" fill="#fff" stroke="#000" stroke-width="3.0"/>
<line x1="396.2" y1="3164.5" x2="396.2" y2="3216.2" stroke="#000" stroke-width="3.0"/>
<text x="839.5" y="2405.5" font-size="29.5" font-family="'Liberation Serif', serif" font-weight="bold" text-anchor="middle" fill="#151515" stroke="#151515" stroke-width="0.35">НОРМИ ВИТРАТИ МАТЕРІАЛЬНИХ РЕСУРСІВ</text>
<text x="279.0" y="2526.0" font-size="29" font-family="'Liberation Serif', serif" font-weight="bold" text-anchor="middle" fill="#151515" stroke="#151515" stroke-width="0.35">Період дії</text>
<text x="617.8" y="2526.0" font-size="29" font-family="'Liberation Serif', serif" font-weight="bold" text-anchor="middle" fill="#151515" stroke="#151515" stroke-width="0.35">Ступінь агрегації проду-</text>
<text x="617.8" y="2559.5" font-size="29" font-family="'Liberation Serif', serif" font-weight="bold" text-anchor="middle" fill="#151515" stroke="#151515" stroke-width="0.35">кції</text>
<text x="1008.8" y="2525.3" font-size="29" font-family="'Liberation Serif', serif" font-weight="bold" text-anchor="middle" fill="#151515" stroke="#151515" stroke-width="0.35">Масштаб застосування в</text>
<text x="1008.8" y="2557.6" font-size="29" font-family="'Liberation Serif', serif" font-weight="bold" text-anchor="middle" fill="#151515" stroke="#151515" stroke-width="0.35">управлінні</text>
<text x="1335.2" y="2525.3" font-size="29" font-family="'Liberation Serif', serif" font-weight="bold" text-anchor="middle" fill="#151515" stroke="#151515" stroke-width="0.35">Методи вста-</text>
<text x="1334.4" y="2557.6" font-size="29" font-family="'Liberation Serif', serif" font-weight="bold" text-anchor="middle" fill="#151515" stroke="#151515" stroke-width="0.35">новлення</text>
<text x="410.6" y="2649.5" font-size="29" font-family="'Liberation Serif', serif" font-weight="bold" text-anchor="middle" fill="#151515" stroke="#151515" stroke-width="0.35">Призначення матеріалів</text>
<text x="825.3" y="2649.4" font-size="29" font-family="'Liberation Serif', serif" font-weight="bold" text-anchor="middle" fill="#151515" stroke="#151515" stroke-width="0.35">Ступіть укрупнення но-</text>
<text x="825.3" y="2681.6" font-size="29" font-family="'Liberation Serif', serif" font-weight="bold" text-anchor="middle" fill="#151515" stroke="#151515" stroke-width="0.35">менклатури МР</text>
<text x="1230.5" y="2649.4" font-size="29" font-family="'Liberation Serif', serif" font-weight="bold" text-anchor="middle" fill="#151515" stroke="#151515" stroke-width="0.35">Повнота і точність ви-</text>
<text x="1229.6" y="2681.6" font-size="29" font-family="'Liberation Serif', serif" font-weight="bold" text-anchor="middle" fill="#151515" stroke="#151515" stroke-width="0.35">хідних даних</text>
<text transform="translate(214.2,2849.0) rotate(90)" font-size="26" font-family="'Liberation Serif', serif" text-anchor="middle" fill="#151515" stroke="#151515" stroke-width="0.35">Оперативні</text>
<text transform="translate(183.2,2849.0) rotate(90)" font-size="26" font-family="'Liberation Serif', serif" text-anchor="middle" fill="#151515" stroke="#151515" stroke-width="0.35">(поточні)</text>
<text transform="translate(265.7,2849.0) rotate(90)" font-size="26" font-family="'Liberation Serif', serif" text-anchor="middle" fill="#151515" stroke="#151515" stroke-width="0.35">Середньорічні</text>
<text transform="translate(317.5,2849.0) rotate(90)" font-size="26" font-family="'Liberation Serif', serif" text-anchor="middle" fill="#151515" stroke="#151515" stroke-width="0.35">Перспективні</text>
<text transform="translate(579.7,2849.0) rotate(90)" font-size="26" font-family="'Liberation Serif', serif" text-anchor="middle" fill="#151515" stroke="#151515" stroke-width="0.35">Індивідуальні</text>
<text transform="translate(631.2,2849.0) rotate(90)" font-size="26" font-family="'Liberation Serif', serif" text-anchor="middle" fill="#151515" stroke="#151515" stroke-width="0.35">Групові</text>
<text transform="translate(866.7,2849.6) rotate(90)" font-size="26" font-family="'Liberation Serif', serif" text-anchor="middle" fill="#151515" stroke="#151515" stroke-width="0.35">Норми на</text>
<text transform="translate(835.7,2849.6) rotate(90)" font-size="26" font-family="'Liberation Serif', serif" text-anchor="middle" fill="#151515" stroke="#151515" stroke-width="0.35">окреме устат-</text>
<text transform="translate(804.7,2849.6) rotate(90)" font-size="26" font-family="'Liberation Serif', serif" text-anchor="middle" fill="#151515" stroke="#151515" stroke-width="0.35">кування</text>
<text transform="translate(943.7,2849.0) rotate(90)" font-size="26" font-family="'Liberation Serif', serif" text-anchor="middle" fill="#151515" stroke="#151515" stroke-width="0.35">Норми  підроз-</text>
<text transform="translate(912.7,2849.0) rotate(90)" font-size="26" font-family="'Liberation Serif', serif" text-anchor="middle" fill="#151515" stroke="#151515" stroke-width="0.35">ділу</text>
<text transform="translate(1022.5,2849.0) rotate(90)" font-size="26" font-family="'Liberation Serif', serif" text-anchor="middle" fill="#151515" stroke="#151515" stroke-width="0.35">Норми  підпри-</text>
<text transform="translate(991.5,2849.0) rotate(90)" font-size="26" font-family="'Liberation Serif', serif" text-anchor="middle" fill="#151515" stroke="#151515" stroke-width="0.35">ємства</text>
<text transform="translate(1126.6,2849.0) rotate(90)" font-size="26" font-family="'Liberation Serif', serif" text-anchor="middle" fill="#151515" stroke="#151515" stroke-width="0.35">За видами еко-</text>
<text transform="translate(1095.6,2849.0) rotate(90)" font-size="26" font-family="'Liberation Serif', serif" text-anchor="middle" fill="#151515" stroke="#151515" stroke-width="0.35">номічної діяль-</text>
<text transform="translate(1064.6,2849.0) rotate(90)" font-size="26" font-family="'Liberation Serif', serif" text-anchor="middle" fill="#151515" stroke="#151515" stroke-width="0.35">ності</text>
<text transform="translate(1360.7,2849.0) rotate(90)" font-size="26" font-family="'Liberation Serif', serif" text-anchor="middle" fill="#151515" stroke="#151515" stroke-width="0.35">Розрахунково-</text>
<text transform="translate(1329.7,2849.0) rotate(90)" font-size="26" font-family="'Liberation Serif', serif" text-anchor="middle" fill="#151515" stroke="#151515" stroke-width="0.35">аналітичні</text>
<text transform="translate(1411.6,2849.0) rotate(90)" font-size="26" font-family="'Liberation Serif', serif" text-anchor="middle" fill="#151515" stroke="#151515" stroke-width="0.35">Дослідні</text>
<text transform="translate(1464.6,2849.0) rotate(90)" font-size="26" font-family="'Liberation Serif', serif" text-anchor="middle" fill="#151515" stroke="#151515" stroke-width="0.35">Статистичні</text>
<text transform="translate(346.7,3047.0) rotate(90)" font-size="26" font-family="'Liberation Serif', serif" text-anchor="middle" fill="#151515" stroke="#151515" stroke-width="0.35">Норми на</text>
<text transform="translate(315.7,3047.0) rotate(90)" font-size="26" font-family="'Liberation Serif', serif" text-anchor="middle" fill="#151515" stroke="#151515" stroke-width="0.35">основні</text>
<text transform="translate(284.7,3047.0) rotate(90)" font-size="26" font-family="'Liberation Serif', serif" text-anchor="middle" fill="#151515" stroke="#151515" stroke-width="0.35">матеріали</text>
<text transform="translate(449.5,3047.0) rotate(90)" font-size="26" font-family="'Liberation Serif', serif" text-anchor="middle" fill="#151515" stroke="#151515" stroke-width="0.35">Норми на</text>
<text transform="translate(418.5,3047.0) rotate(90)" font-size="26" font-family="'Liberation Serif', serif" text-anchor="middle" fill="#151515" stroke="#151515" stroke-width="0.35">допоміжні</text>
<text transform="translate(387.5,3047.0) rotate(90)" font-size="26" font-family="'Liberation Serif', serif" text-anchor="middle" fill="#151515" stroke="#151515" stroke-width="0.35">матеріали</text>
<text transform="translate(552.7,3047.0) rotate(90)" font-size="26" font-family="'Liberation Serif', serif" text-anchor="middle" fill="#151515" stroke="#151515" stroke-width="0.35">Норми на</text>
<text transform="translate(521.7,3047.0) rotate(90)" font-size="26" font-family="'Liberation Serif', serif" text-anchor="middle" fill="#151515" stroke="#151515" stroke-width="0.35">паливо та</text>
<text transform="translate(490.7,3047.0) rotate(90)" font-size="26" font-family="'Liberation Serif', serif" text-anchor="middle" fill="#151515" stroke="#151515" stroke-width="0.35">енергію</text>
<text transform="translate(710.2,3047.0) rotate(90)" font-size="26" font-family="'Liberation Serif', serif" text-anchor="middle" fill="#151515" stroke="#151515" stroke-width="0.35">Специфі-</text>
<text transform="translate(679.2,3047.0) rotate(90)" font-size="26" font-family="'Liberation Serif', serif" text-anchor="middle" fill="#151515" stroke="#151515" stroke-width="0.35">ковані</text>
<text transform="translate(763.2,3046.0) rotate(90)" font-size="26" font-family="'Liberation Serif', serif" text-anchor="middle" fill="#151515" stroke="#151515" stroke-width="0.35">Зведені</text>
<text transform="translate(1177.4,3046.6) rotate(90)" font-size="26" font-family="'Liberation Serif', serif" text-anchor="middle" fill="#151515" stroke="#151515" stroke-width="0.35">Технічні</text>
<text transform="translate(1146.4,3046.6) rotate(90)" font-size="26" font-family="'Liberation Serif', serif" text-anchor="middle" fill="#151515" stroke="#151515" stroke-width="0.35">(стабільні)</text>
<text transform="translate(1230.5,3046.6) rotate(90)" font-size="26" font-family="'Liberation Serif', serif" text-anchor="middle" fill="#151515" stroke="#151515" stroke-width="0.35">Тимчасові</text>
<text transform="translate(1283.5,3047.4) rotate(90)" font-size="26" font-family="'Liberation Serif', serif" text-anchor="middle" fill="#151515" stroke="#151515" stroke-width="0.35">Разові</text>
<text transform="translate(1333.2,3046.6) rotate(90)" font-size="26" font-family="'Liberation Serif', serif" text-anchor="middle" fill="#151515" stroke="#151515" stroke-width="0.35">Орієнтовні</text>
<text x="279.6" y="3188.6" font-size="26" font-family="'Liberation Serif', serif" text-anchor="middle" fill="#151515" stroke="#151515" stroke-width="0.35">Технологічні</text>
<text x="526.3" y="3188.6" font-size="26" font-family="'Liberation Serif', serif" text-anchor="middle" fill="#151515" stroke="#151515" stroke-width="0.35">Загально-виробничі</text>
</svg>

</body></html>
